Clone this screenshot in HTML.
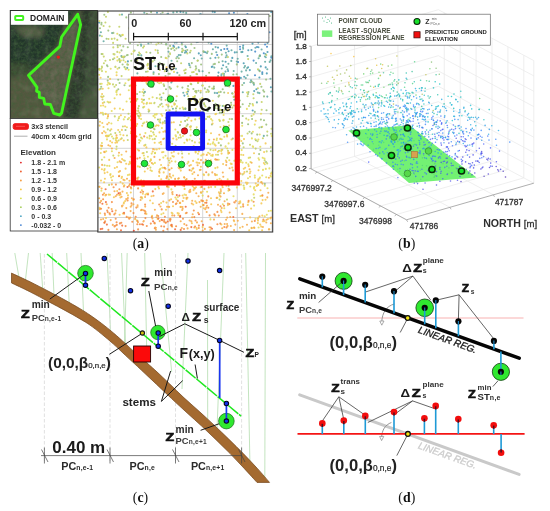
<!DOCTYPE html>
<html><head><meta charset="utf-8"><title>Figure</title>
<style>
html,body{margin:0;padding:0;background:#fff;}
body{width:550px;height:511px;overflow:hidden;}
svg{display:block;font-family:"Liberation Sans",sans-serif;}
</style></head><body>
<svg width="550" height="511" viewBox="0 0 550 511">
<defs>
<clipPath id="satclip"><rect x="10.2" y="10.4" width="87.3" height="108"/></clipPath>
<filter id="blur2" x="-10%" y="-10%" width="120%" height="120%"><feGaussianBlur stdDeviation="2.2"/></filter>
<filter id="noise" x="0" y="0" width="100%" height="100%"><feTurbulence type="fractalNoise" baseFrequency="0.35" numOctaves="3" seed="4"/><feColorMatrix type="matrix" values="0 0 0 0 0.05  0 0 0 0 0.12  0 0 0 0 0.04  0 0 0 2.2 -0.75"/></filter>
<filter id="noise2" x="0" y="0" width="100%" height="100%"><feTurbulence type="fractalNoise" baseFrequency="0.12" numOctaves="2" seed="9"/><feColorMatrix type="matrix" values="0 0 0 0 0.55  0 0 0 0 0.58  0 0 0 0 0.45  0 0 0 2.5 -1.1"/></filter>
</defs>
<rect width="550" height="511" fill="#fff"/>
<g id="pa">
<rect x="97.8" y="11" width="174.9" height="220.6" fill="#fff"/>
<path d="M133.5 11V231.5M168.1 11V231.5M202.7 11V231.5M237.3 11V231.5M271.9 11V231.5M98 44.5H272.6M98 79.1H272.6M98 113.7H272.6M98 148.3H272.6M98 182.9H272.6M98 217.5H272.6" stroke="#cbcbcb" stroke-width="0.8" fill="none"/>
<path d="M224.3 49.0h0M183.0 17.2h0M255.0 75.3h0M250.0 16.6h0M173.7 22.6h0M227.3 48.9h0M240.3 18.4h0M175.0 25.4h0M240.1 49.2h0M222.2 20.7h0M242.8 36.9h0M266.8 31.4h0M237.4 19.6h0M261.8 40.7h0M221.9 25.4h0M228.7 19.5h0M238.7 36.2h0M254.9 41.1h0M223.4 25.5h0M241.2 39.9h0M202.6 25.5h0M255.2 51.6h0M265.1 44.5h0M252.3 24.3h0M233.1 35.1h0M186.2 52.0h0M267.3 25.9h0M173.4 45.9h0M238.1 62.0h0M239.5 32.5h0M263.8 53.2h0M271.3 57.6h0M240.0 46.8h0M268.2 37.7h0M233.9 12.7h0M212.4 31.0h0M253.6 60.6h0M247.4 14.0h0M181.7 42.7h0M211.3 43.8h0M229.1 13.3h0M185.8 15.1h0M267.0 46.7h0M217.2 55.0h0M257.0 47.0h0M253.9 22.2h0M269.4 32.3h0M163.2 15.9h0M249.1 30.9h0M221.0 30.8h0M152.9 34.7h0M210.0 18.6h0M190.3 15.8h0M262.3 72.2h0M235.7 26.9h0M222.6 33.2h0" stroke="#3f86c8" stroke-width="2.1" stroke-linecap="round" opacity="0.85" fill="none"/>
<path d="M231.9 40.1h0M256.4 89.3h0M259.3 70.5h0M184.4 95.6h0M260.8 66.4h0M176.7 42.4h0M267.5 42.9h0M257.2 20.6h0M178.6 47.4h0M242.4 51.9h0M253.9 40.7h0M262.4 35.3h0M262.3 73.9h0M212.4 66.6h0M232.3 57.9h0M265.7 67.4h0M230.1 34.9h0M259.0 33.2h0M197.8 42.0h0M249.8 70.1h0M233.4 85.9h0M200.2 14.4h0M189.8 33.5h0M211.8 66.9h0M244.2 76.7h0M218.0 47.6h0M248.1 67.3h0M233.2 24.4h0M204.6 28.4h0M258.4 47.3h0M163.2 21.4h0M240.4 34.1h0M166.6 19.0h0M193.3 32.3h0M192.5 31.2h0M218.5 72.6h0M191.3 27.3h0M243.7 63.2h0M214.6 16.8h0M200.8 55.2h0M196.7 42.1h0M267.1 37.4h0M259.8 56.0h0M221.1 50.1h0M99.1 22.6h0M228.1 71.0h0M146.0 25.1h0M267.5 52.0h0M225.6 61.7h0M198.8 53.4h0M180.8 15.3h0M248.3 50.2h0M240.8 77.9h0M180.5 11.9h0M145.7 20.8h0M250.2 36.1h0M242.7 15.8h0M154.1 41.1h0M168.5 39.6h0M258.1 34.3h0M251.5 50.0h0M161.9 15.9h0M214.8 12.1h0M212.8 40.5h0M182.6 27.3h0M266.8 73.4h0M252.7 110.5h0M230.9 30.9h0M259.4 77.5h0M175.2 31.9h0M151.4 26.4h0M193.8 23.1h0M228.6 51.2h0M212.7 11.8h0M238.9 36.9h0M247.4 15.6h0M252.2 27.4h0M187.9 91.5h0M219.4 30.1h0M205.4 52.3h0M250.6 30.8h0M181.9 26.9h0M252.5 43.6h0M189.5 65.3h0M270.9 87.2h0M258.3 42.6h0M127.9 61.4h0M157.0 12.7h0M203.6 21.5h0M166.8 30.5h0M200.8 14.2h0M216.6 39.8h0M223.1 65.2h0M217.1 93.1h0M271.2 12.0h0M211.2 24.8h0M209.0 17.9h0M178.5 19.5h0M254.2 91.1h0M234.8 52.4h0M215.4 57.7h0M241.4 26.1h0M243.2 45.5h0M168.1 14.1h0M151.7 28.1h0M233.5 31.8h0M185.9 47.2h0" stroke="#4496b0" stroke-width="2.1" stroke-linecap="round" opacity="0.85" fill="none"/>
<path d="M247.5 75.2h0M144.3 12.7h0M138.1 54.9h0M243.0 47.2h0M233.7 71.0h0M185.4 50.8h0M186.2 12.9h0M226.4 67.0h0M219.8 36.4h0M265.8 57.2h0M231.6 20.7h0M153.6 72.2h0M226.6 55.4h0M216.3 52.3h0M271.4 91.5h0M141.0 44.5h0M234.3 99.8h0M160.4 24.2h0M246.1 70.4h0M171.9 81.5h0M210.4 58.3h0M225.9 52.8h0M270.6 60.4h0M242.8 92.2h0M226.7 45.6h0M185.3 109.0h0M264.9 56.5h0M213.7 88.8h0M207.6 111.0h0M142.0 24.8h0M185.3 46.3h0M255.4 47.8h0M200.7 29.4h0M201.7 58.5h0M258.6 58.3h0M155.8 32.3h0M177.3 72.7h0M103.6 41.2h0M147.7 84.4h0M150.3 17.1h0M183.2 41.5h0M225.5 71.6h0M144.6 26.9h0M267.3 96.6h0M189.0 63.8h0M247.6 56.0h0M247.2 68.1h0M261.5 127.1h0M191.6 37.6h0M144.6 18.6h0M183.5 15.4h0M241.3 52.1h0M241.6 71.6h0M244.0 83.0h0M146.4 24.7h0M270.5 78.8h0M122.0 14.6h0M269.7 61.9h0M231.3 60.9h0M174.8 42.6h0M265.5 54.0h0M144.9 19.6h0M140.5 68.4h0M178.8 55.1h0M232.2 93.2h0M243.1 48.8h0M144.9 91.9h0M236.8 61.5h0M228.4 63.7h0M175.5 30.7h0M141.3 55.4h0M168.5 51.7h0M138.3 24.4h0M205.4 81.1h0M141.1 45.7h0M187.3 94.0h0M225.8 57.2h0M183.3 92.7h0M207.0 53.1h0M180.6 55.1h0M157.5 17.5h0M206.9 38.3h0M259.9 55.4h0M224.0 36.8h0M184.9 52.7h0M138.4 37.0h0M245.8 78.1h0M167.2 14.4h0M265.1 61.8h0M259.5 93.1h0M253.4 39.8h0M271.4 56.2h0M100.9 32.3h0M137.7 21.4h0M161.4 97.5h0M155.4 66.2h0M212.1 36.7h0M234.2 40.0h0M250.4 82.3h0M251.4 81.3h0M211.1 21.7h0M214.8 92.9h0M112.1 33.1h0M167.2 70.7h0M164.3 26.9h0M236.8 52.2h0M257.8 92.6h0M184.8 22.7h0M138.2 22.2h0M267.3 69.2h0M211.9 29.2h0M183.3 12.3h0M185.5 19.6h0M239.1 86.6h0M212.8 26.4h0M244.2 67.5h0M221.4 75.6h0M173.1 30.6h0M256.1 63.0h0M171.5 60.8h0M204.0 51.9h0M170.8 88.5h0M231.5 50.3h0M214.3 67.6h0M179.8 39.1h0M193.9 40.5h0M244.9 37.6h0M198.4 40.4h0M237.9 85.8h0M207.4 23.7h0M172.9 108.7h0M142.3 20.0h0M261.6 49.5h0M227.7 69.3h0M232.7 37.5h0M253.3 82.9h0M173.3 12.4h0M155.9 16.4h0M221.5 74.2h0M256.9 102.4h0M199.3 71.2h0M137.4 73.4h0M263.8 135.9h0M166.3 44.2h0M129.6 27.2h0M221.8 68.5h0M138.8 23.3h0M177.3 56.7h0M194.1 58.2h0M192.7 21.3h0M174.1 46.9h0M194.8 78.4h0M176.0 68.7h0M127.2 67.9h0M237.7 58.8h0M220.9 23.6h0M208.6 42.6h0M215.6 47.1h0M182.1 52.0h0M121.4 56.0h0M224.0 73.9h0M139.7 30.6h0M222.6 61.3h0M202.6 71.3h0M236.1 98.3h0M176.9 12.0h0M245.0 66.1h0M99.9 35.6h0M208.8 22.3h0M212.9 49.2h0M235.5 37.7h0M171.3 82.5h0M253.9 84.8h0M152.5 36.3h0M160.8 14.4h0M251.0 80.2h0M148.4 43.5h0M150.5 23.9h0M156.9 38.0h0M222.7 106.0h0M218.1 76.1h0" stroke="#5fa8a0" stroke-width="2.1" stroke-linecap="round" opacity="0.85" fill="none"/>
<path d="M124.5 67.0h0M264.2 91.7h0M195.8 66.2h0M188.1 86.1h0M147.6 64.8h0M266.1 79.6h0M218.9 62.2h0M266.5 110.2h0M151.1 42.6h0M146.5 22.4h0M127.8 47.2h0M164.1 85.9h0M117.7 45.6h0M178.0 132.6h0M210.6 78.3h0M215.6 103.8h0M131.2 60.7h0M264.0 96.4h0M113.4 32.9h0M169.8 73.8h0M165.2 38.7h0M213.8 80.3h0M177.2 61.3h0M207.6 89.7h0M232.8 138.6h0M251.7 133.4h0M196.2 68.3h0M242.8 143.4h0M99.1 69.4h0M182.2 48.7h0M207.6 110.9h0M170.1 45.9h0M190.0 52.5h0M264.0 120.2h0M130.4 34.3h0M106.6 38.7h0M185.5 73.0h0M191.3 44.3h0M224.0 75.9h0M270.9 151.2h0M222.7 89.3h0M213.9 86.6h0M200.6 92.4h0M196.1 91.0h0M207.7 51.6h0M126.9 55.2h0M233.3 74.5h0M107.0 65.3h0M214.9 63.9h0M161.2 57.0h0M101.2 86.8h0M166.0 89.3h0M146.0 71.7h0M208.7 91.3h0M162.4 65.1h0M118.3 89.2h0M195.2 91.2h0M168.0 81.5h0M164.1 64.5h0M107.7 80.6h0M182.0 44.4h0M168.7 56.4h0M158.4 42.5h0M139.0 55.2h0M203.5 112.0h0M206.1 75.8h0M248.1 124.3h0M233.7 80.7h0M168.6 73.7h0M135.0 67.0h0M239.4 112.1h0M193.4 89.0h0M100.0 28.2h0M142.6 77.6h0M218.5 57.6h0M219.2 78.4h0M161.4 42.9h0M146.9 13.9h0M130.1 43.3h0M236.7 74.3h0M211.9 124.5h0M191.8 63.1h0M113.0 59.3h0M122.6 64.5h0M264.8 183.9h0M174.5 50.2h0M269.8 16.0h0M124.5 85.2h0M158.0 119.5h0M209.1 72.8h0M141.7 67.7h0M249.5 131.8h0M157.8 66.4h0M134.8 91.2h0M168.4 106.5h0M143.9 92.9h0M257.2 134.6h0M255.9 140.2h0M123.3 46.4h0M101.4 24.5h0M203.4 51.4h0M178.8 58.3h0M161.3 99.8h0M176.1 100.7h0M197.8 60.5h0M166.0 44.4h0M107.5 66.2h0M142.6 30.7h0M242.7 116.0h0M202.2 85.5h0M224.2 92.5h0M135.5 85.5h0M248.0 94.0h0M125.5 130.0h0M239.5 135.9h0M151.9 33.3h0M165.5 76.0h0M143.2 68.4h0M137.1 94.0h0M152.6 86.9h0M162.4 38.0h0M119.9 61.9h0M198.0 82.9h0M209.3 86.8h0M132.1 40.6h0M219.8 112.7h0M134.6 50.6h0M204.9 88.4h0M119.2 67.7h0M237.5 78.6h0M204.3 104.5h0M185.5 19.8h0M189.6 104.0h0M119.6 83.0h0M120.7 36.3h0M254.8 111.9h0M191.0 79.3h0M121.8 56.9h0M242.3 85.0h0M127.3 64.4h0M119.6 35.0h0M119.3 59.1h0M180.0 125.1h0M133.1 148.4h0M260.9 119.6h0M221.7 112.6h0M253.8 83.3h0M263.3 90.4h0M208.0 108.1h0M184.9 36.5h0M158.9 74.1h0M104.3 14.7h0M188.4 21.0h0M187.3 50.0h0M154.4 60.0h0M260.4 150.0h0M228.6 185.8h0M138.9 116.2h0M157.7 50.6h0M259.1 154.1h0M232.0 119.1h0M234.1 96.6h0M261.4 86.8h0M168.9 32.0h0M101.6 54.0h0M215.3 108.2h0M100.7 88.8h0M134.6 67.5h0M118.2 79.7h0M161.6 103.7h0M164.9 121.1h0M130.9 12.6h0M131.3 116.4h0M154.5 129.3h0M136.8 18.0h0M190.3 67.3h0M168.2 48.3h0M132.3 32.6h0M220.7 91.9h0M239.8 100.5h0M251.8 81.7h0M150.3 52.7h0M179.4 75.2h0M240.3 106.9h0M215.1 107.0h0M191.3 84.2h0M201.1 64.5h0M242.1 122.9h0M126.3 17.4h0M144.0 99.8h0M169.5 87.1h0M248.5 92.1h0M196.3 92.4h0M242.7 104.2h0M249.9 103.8h0M143.1 77.6h0M176.4 48.5h0M151.1 12.1h0M240.8 160.4h0M162.6 12.5h0M267.2 135.5h0M159.7 62.7h0M148.1 20.7h0M154.0 30.3h0M221.8 54.6h0M225.5 86.0h0M197.0 74.3h0M266.0 162.1h0M266.3 124.6h0M137.8 45.2h0M219.2 95.6h0M179.2 80.3h0M185.3 108.4h0M108.3 30.6h0M134.7 41.5h0M187.6 124.6h0M231.1 102.7h0M160.3 122.5h0M213.8 88.3h0M121.5 50.4h0M220.9 145.4h0M259.8 71.3h0M188.1 99.3h0M238.7 108.4h0M101.5 22.9h0M218.5 96.6h0M259.5 56.3h0M123.6 57.5h0M213.6 64.3h0M171.3 48.9h0M176.3 58.3h0M194.5 48.0h0M127.7 55.0h0M165.1 69.8h0M148.7 111.6h0M153.3 57.1h0M236.8 64.4h0M153.5 73.9h0M198.8 70.0h0M182.4 87.6h0M108.1 76.9h0M176.0 108.4h0M252.1 119.0h0M190.4 76.0h0M198.4 90.7h0M124.8 56.5h0M134.1 80.8h0M211.8 53.9h0M185.1 121.1h0M168.3 98.8h0" stroke="#97bd78" stroke-width="2.1" stroke-linecap="round" opacity="0.85" fill="none"/>
<path d="M262.9 138.2h0M216.6 105.4h0M141.1 137.6h0M109.6 26.5h0M107.9 11.9h0M270.8 113.9h0M188.5 89.7h0M135.4 67.0h0M190.9 126.4h0M175.6 145.9h0M117.8 47.2h0M133.7 80.1h0M101.9 66.6h0M159.0 23.7h0M143.1 47.6h0M267.3 131.6h0M106.0 16.7h0M122.9 126.5h0M228.4 122.0h0M187.3 53.4h0M114.5 86.7h0M248.2 59.1h0M181.1 63.2h0M260.2 83.9h0M163.6 84.4h0M149.7 135.9h0M163.0 122.3h0M266.3 55.0h0M206.0 119.0h0M117.3 39.9h0M205.5 106.5h0M101.4 68.8h0M219.6 199.6h0M158.5 42.9h0M104.2 102.2h0M219.9 120.9h0M139.3 112.7h0M140.0 53.8h0M222.3 149.7h0M233.6 96.9h0M135.2 161.7h0M159.8 69.9h0M139.4 42.3h0M108.3 136.1h0M101.2 96.6h0M247.0 171.6h0M210.5 149.7h0M220.6 193.0h0M131.6 53.9h0M123.5 60.3h0M127.9 119.3h0M121.6 76.1h0M195.2 119.4h0M250.0 144.8h0M195.0 96.0h0M252.6 104.0h0M185.0 133.0h0M165.6 100.1h0M147.9 63.7h0M138.2 110.9h0M152.7 61.4h0M222.9 73.6h0M219.7 105.6h0M266.7 151.4h0M220.3 109.9h0M242.6 174.4h0M182.1 153.6h0M169.0 160.5h0M108.8 102.5h0M192.1 140.7h0M138.9 106.1h0M257.9 88.3h0M218.0 154.8h0M155.0 153.3h0M259.4 127.6h0M120.1 45.5h0M219.2 110.2h0M124.8 160.8h0M239.2 89.0h0M119.3 60.1h0M144.2 80.4h0M247.6 133.5h0M107.8 129.4h0M110.8 134.3h0M202.0 112.8h0M121.7 138.4h0M113.4 138.5h0M261.7 102.0h0M243.6 185.5h0M253.6 98.2h0M128.4 80.1h0M200.1 99.4h0M177.5 86.6h0M238.1 111.5h0M208.6 174.2h0M105.4 22.5h0M258.0 69.4h0M218.7 142.9h0M155.0 32.5h0M114.3 58.3h0M141.8 68.1h0M197.5 60.7h0M119.3 26.7h0M182.2 51.2h0M227.0 199.6h0M127.8 140.0h0M139.8 92.0h0M101.9 159.8h0M154.3 103.2h0M113.3 47.4h0M144.0 46.3h0M186.6 126.0h0M165.8 117.7h0M232.3 107.6h0M122.2 35.1h0M231.3 105.0h0M158.0 52.9h0M159.9 94.6h0M146.6 103.8h0M113.5 54.1h0M160.1 104.9h0M192.1 72.2h0M102.6 54.1h0M247.5 96.3h0M108.5 39.0h0M194.8 100.5h0M184.2 70.5h0M103.8 56.6h0M195.9 102.2h0M114.8 116.4h0M113.0 84.4h0M173.1 48.1h0M137.4 99.0h0M132.8 125.4h0M146.8 121.9h0M174.9 104.0h0M232.6 93.8h0M135.7 80.0h0M187.2 119.9h0M196.4 74.0h0M143.6 153.0h0M153.2 132.4h0M164.1 138.5h0M100.2 83.9h0M178.7 137.7h0M114.5 54.4h0M239.0 134.0h0M129.0 28.4h0M110.1 130.6h0M109.1 184.9h0M188.2 96.3h0M102.0 71.1h0M169.7 110.3h0M209.4 117.1h0M185.7 180.1h0M253.3 94.2h0M208.5 91.9h0M170.4 88.7h0M142.1 80.9h0M139.1 52.5h0M116.1 85.0h0M229.7 119.0h0M115.5 66.9h0M104.6 165.2h0M171.5 70.1h0M211.1 182.5h0M236.8 114.7h0M125.8 69.2h0M164.8 71.3h0M229.3 86.5h0M147.7 71.5h0M157.6 82.1h0M194.7 130.0h0M111.8 38.9h0M137.2 60.4h0M180.4 113.4h0M183.4 50.3h0M130.9 101.9h0M271.1 133.7h0M119.7 14.7h0M143.6 95.5h0M99.2 68.7h0M146.9 152.0h0M128.1 64.8h0M261.7 109.7h0M178.5 114.7h0M166.1 110.3h0M143.1 123.5h0M156.3 44.5h0M151.7 30.6h0M116.9 90.5h0M132.6 150.9h0M129.7 85.9h0M109.5 83.6h0M153.8 128.6h0M239.2 159.8h0M163.4 93.3h0M193.7 72.0h0M127.0 135.5h0M136.3 100.7h0M192.3 113.0h0M224.7 110.1h0M134.6 25.8h0M264.7 160.4h0M145.4 144.9h0M146.4 52.2h0M125.6 38.8h0M114.5 38.6h0M186.8 139.6h0M271.6 172.6h0M237.1 85.5h0M156.8 98.1h0M199.4 142.6h0M143.2 107.4h0M203.8 162.3h0M222.0 110.0h0M164.7 41.4h0M227.5 110.7h0M195.6 69.8h0M150.4 167.6h0M103.5 96.2h0M113.3 155.6h0M176.1 111.4h0M206.3 92.0h0M184.4 115.9h0M158.5 106.7h0M118.8 118.3h0M235.9 98.1h0M254.2 197.7h0M218.5 106.8h0M225.9 105.6h0M243.6 147.2h0M149.3 110.7h0M132.9 81.3h0M146.9 83.7h0M169.3 95.4h0M143.2 100.1h0M195.7 91.6h0M115.3 133.1h0M183.5 109.1h0M194.5 97.4h0M102.5 99.5h0M179.9 108.5h0M180.8 137.4h0M169.7 114.7h0M204.1 103.2h0M137.0 113.7h0M117.3 51.9h0M103.2 114.6h0M147.7 77.0h0M187.5 88.7h0M119.7 132.0h0M173.7 67.9h0M250.1 157.5h0M165.1 123.0h0M217.8 108.5h0M227.2 157.8h0M234.0 105.5h0M255.7 148.6h0M168.9 95.6h0M196.6 112.5h0M103.6 26.0h0M148.3 124.7h0M223.3 120.5h0M223.7 105.8h0M115.3 66.9h0M249.0 106.0h0M113.1 42.9h0M190.7 50.7h0M228.0 150.8h0M165.7 57.9h0M170.1 54.1h0M239.0 179.1h0M201.9 128.2h0M110.0 60.0h0M190.7 83.9h0M105.4 60.7h0M185.7 69.6h0M102.0 67.3h0M154.5 102.8h0M271.5 128.8h0M123.6 57.3h0M116.6 146.6h0M218.8 92.3h0M205.2 106.0h0M257.5 141.2h0M246.2 118.6h0M170.0 53.2h0M185.4 115.6h0M227.9 57.1h0M128.5 113.8h0M203.6 133.8h0M207.7 116.8h0M270.9 147.1h0M103.9 63.3h0M185.0 73.3h0M267.2 163.4h0M140.0 77.3h0M212.2 88.6h0M174.9 37.2h0M118.6 140.5h0M219.0 150.7h0M251.6 115.9h0M138.2 108.4h0M154.8 138.9h0M138.1 115.7h0M101.9 36.2h0" stroke="#c2d060" stroke-width="2.1" stroke-linecap="round" opacity="0.85" fill="none"/>
<path d="M105.3 106.8h0M200.2 111.0h0M153.1 164.1h0M102.7 112.9h0M147.0 102.7h0M139.2 118.0h0M250.3 186.5h0M116.4 91.4h0M248.3 164.3h0M187.5 163.5h0M119.9 108.6h0M136.8 220.4h0M184.5 194.6h0M221.2 151.1h0M181.0 121.9h0M139.1 140.0h0M222.8 204.3h0M151.5 136.1h0M218.7 159.8h0M143.9 155.5h0M170.3 102.4h0M189.6 139.5h0M104.3 157.3h0M251.9 138.4h0M123.3 56.5h0M224.3 208.3h0M172.5 156.1h0M144.3 122.6h0M161.1 203.0h0M99.3 89.5h0M100.8 153.0h0M190.9 100.7h0M129.0 79.6h0M224.3 136.7h0M241.7 150.1h0M134.3 81.7h0M130.8 120.1h0M159.2 83.3h0M155.4 126.2h0M117.3 57.0h0M192.5 168.9h0M166.7 58.2h0M147.5 65.4h0M123.8 119.4h0M111.9 151.3h0M104.7 169.1h0M168.7 122.1h0M265.8 168.9h0M254.0 188.6h0M216.2 113.7h0M254.1 205.6h0M183.0 136.0h0M133.6 51.4h0M264.5 158.5h0M148.4 68.3h0M204.2 120.3h0M248.5 119.8h0M190.7 129.5h0M101.9 143.1h0M264.7 216.4h0M161.9 128.0h0M151.7 153.6h0M193.7 146.0h0M107.0 135.5h0M149.0 123.8h0M198.3 101.8h0M117.3 33.7h0M255.3 139.3h0M176.7 96.3h0M128.8 90.3h0M165.5 155.8h0M152.6 97.2h0M251.7 200.4h0M155.0 114.4h0M255.6 218.7h0M147.9 156.7h0M175.6 135.2h0M190.6 135.5h0M252.9 131.8h0M183.5 133.1h0M127.9 175.1h0M263.0 169.9h0M259.1 159.7h0M130.9 133.2h0M240.5 160.6h0M161.3 114.2h0M176.0 136.4h0M258.4 139.6h0M136.6 99.3h0M184.4 142.7h0M212.7 143.5h0M109.2 135.4h0M144.2 106.8h0M134.0 178.1h0M223.8 126.1h0M237.9 126.0h0M146.4 82.8h0M162.4 167.8h0M163.3 157.6h0M111.1 177.4h0M254.9 177.6h0M201.5 113.1h0M240.3 202.8h0M154.0 134.6h0M107.5 84.8h0M186.6 92.2h0M126.9 127.3h0M213.3 150.2h0M117.6 68.8h0M143.8 180.7h0M242.0 135.9h0M229.3 160.3h0M137.7 149.6h0M156.1 136.3h0M244.2 188.9h0M215.3 168.1h0M149.2 98.7h0M116.4 92.3h0M271.0 176.6h0M142.1 102.1h0M201.2 155.5h0M129.6 33.7h0M142.4 92.0h0M119.2 116.8h0M262.2 126.7h0M135.6 30.0h0M111.7 111.0h0M238.6 154.9h0M130.2 163.4h0M227.2 148.5h0M215.2 186.9h0M120.9 60.5h0M259.7 134.5h0M264.8 185.8h0M268.7 211.0h0M216.0 154.7h0M110.5 174.1h0M188.6 117.8h0M264.8 164.2h0M161.4 214.2h0M172.2 143.7h0M133.1 141.4h0M254.3 187.1h0M209.5 116.2h0M202.9 85.6h0M259.9 177.6h0M116.6 72.4h0M119.6 52.5h0M232.4 149.9h0M246.9 108.9h0M216.9 174.9h0M224.6 132.5h0M200.7 187.2h0M99.4 21.1h0M210.4 219.4h0M135.7 110.8h0M253.1 105.4h0M167.6 142.2h0M198.3 82.3h0M155.1 152.9h0M233.5 196.2h0M162.7 106.5h0M118.6 155.6h0M241.2 154.8h0M242.2 125.8h0M242.6 162.6h0M212.8 100.7h0M151.9 171.0h0M198.0 153.8h0M166.8 80.2h0M212.5 155.9h0M167.2 121.6h0M221.7 139.3h0M198.1 182.5h0M181.6 150.7h0M109.9 84.0h0M237.6 122.9h0M217.3 197.7h0M258.4 217.5h0M175.3 129.5h0M134.5 129.0h0M142.1 138.5h0M257.8 185.1h0M132.1 149.0h0M105.9 71.8h0M228.6 143.4h0M151.0 131.2h0M219.2 119.8h0M101.7 83.7h0M134.5 133.3h0M211.1 155.5h0M171.8 106.5h0M162.4 64.2h0M269.4 168.4h0M260.3 146.8h0M200.7 104.0h0M120.3 134.5h0M254.8 124.6h0M168.7 115.8h0M172.5 213.6h0M99.2 167.5h0M110.7 68.7h0M253.6 114.4h0M246.2 162.7h0M230.7 163.6h0M248.0 178.3h0M254.8 175.5h0M234.3 160.8h0M112.0 136.6h0M195.6 109.1h0M150.9 159.4h0M159.3 142.7h0M155.8 78.7h0M266.8 214.7h0M117.4 60.6h0M153.5 115.9h0M116.4 149.2h0M206.2 130.5h0M225.5 146.7h0M128.6 69.7h0M234.8 92.0h0M161.1 82.8h0M240.8 207.0h0M198.2 159.3h0M140.4 140.8h0M144.5 158.4h0M185.4 127.9h0M124.9 117.0h0M258.6 227.5h0M160.3 168.8h0M115.8 138.8h0M142.3 186.2h0M247.0 92.5h0M216.7 140.0h0M107.1 165.8h0M203.6 174.2h0M250.5 162.0h0M174.2 103.4h0M216.9 138.5h0M260.5 196.0h0M150.0 161.4h0M244.2 187.5h0M167.2 186.0h0M259.6 178.5h0M131.1 85.3h0M139.2 142.7h0M188.9 153.7h0M227.7 179.3h0M196.7 127.2h0M111.4 123.5h0M145.4 133.1h0M168.1 121.0h0M99.6 69.7h0M226.9 135.1h0M234.6 160.7h0M160.1 119.4h0M105.5 114.0h0M177.9 197.0h0M101.1 148.7h0M176.4 199.2h0M106.2 151.2h0M199.6 118.4h0M169.1 120.4h0M229.2 125.5h0M267.5 188.3h0M188.6 181.3h0M107.4 118.3h0M228.4 190.7h0M177.0 106.4h0M174.0 71.9h0M266.2 177.2h0M189.5 183.2h0M129.0 118.0h0M149.6 138.4h0M156.8 181.8h0M261.6 182.1h0M142.2 198.4h0M163.4 152.0h0M126.6 101.5h0M209.2 139.7h0M212.4 120.6h0M114.6 98.2h0M223.6 119.9h0M177.7 113.5h0M207.1 191.7h0M262.7 157.7h0M228.6 131.3h0M208.1 152.7h0M271.7 136.1h0M194.9 142.4h0M136.3 125.9h0M100.9 105.7h0M108.5 88.2h0M154.9 162.9h0M179.6 184.3h0M168.2 128.7h0M116.3 137.5h0M143.4 89.6h0M156.8 114.0h0M159.7 120.4h0M169.0 179.6h0M107.0 139.4h0M109.4 165.9h0M270.5 175.8h0M140.8 181.5h0M258.5 158.2h0M225.6 146.4h0M141.1 119.0h0M162.8 167.8h0M237.4 178.5h0M125.5 62.0h0M201.2 193.0h0M159.7 98.6h0M254.0 187.6h0M202.7 195.6h0M107.6 101.7h0M99.2 74.8h0M152.7 139.2h0M248.7 157.9h0M271.0 210.7h0M115.9 140.2h0M262.2 175.5h0M213.2 142.3h0M202.2 98.0h0M223.7 112.3h0M182.7 107.5h0M220.4 127.0h0M117.6 162.3h0M137.9 166.4h0M135.0 133.2h0M177.7 132.1h0M202.7 205.1h0M211.1 119.0h0M159.3 121.5h0M240.6 162.0h0M118.0 120.2h0M210.3 144.3h0M147.4 126.8h0M175.4 161.6h0M253.7 194.4h0M171.4 189.4h0M206.1 132.3h0M151.2 103.3h0M252.8 146.4h0M168.4 105.4h0M261.0 113.8h0M259.3 166.6h0M251.5 227.9h0M140.4 114.1h0M125.5 68.6h0M147.2 137.6h0M208.0 143.5h0M99.5 89.5h0M214.6 144.4h0M168.8 129.0h0M108.2 82.8h0M228.2 153.8h0M198.2 147.2h0M125.4 83.2h0M165.2 130.7h0M122.8 34.9h0M193.2 97.1h0M195.6 151.6h0M154.9 117.5h0M253.1 146.9h0M132.6 154.1h0M155.5 50.1h0M142.2 185.6h0M101.4 190.8h0M156.4 114.5h0M129.8 98.6h0M116.8 94.6h0M110.0 194.8h0M223.6 115.0h0M133.0 177.5h0M101.8 146.3h0" stroke="#e4da58" stroke-width="2.1" stroke-linecap="round" opacity="0.85" fill="none"/>
<path d="M111.3 129.2h0M163.3 131.8h0M250.4 171.5h0M171.2 177.6h0M244.3 218.7h0M166.5 202.6h0M263.9 163.0h0M143.7 103.6h0M171.7 212.8h0M180.8 170.6h0M262.2 195.8h0M125.6 168.6h0M117.2 191.1h0M144.8 171.5h0M217.2 179.8h0M119.6 214.7h0M200.8 90.8h0M107.4 172.2h0M120.9 115.2h0M255.7 120.7h0M141.8 99.3h0M100.6 77.8h0M171.6 161.3h0M236.9 173.7h0M163.4 213.2h0M241.3 181.0h0M133.0 176.7h0M117.1 142.4h0M202.6 154.5h0M166.0 209.8h0M105.4 195.4h0M114.7 108.6h0M161.2 179.3h0M129.4 174.6h0M245.2 167.7h0M110.2 141.1h0M147.7 168.6h0M236.5 172.4h0M180.1 134.9h0M255.7 183.5h0M133.0 163.5h0M162.2 115.7h0M208.8 183.5h0M207.4 164.3h0M178.1 178.8h0M261.2 226.6h0M101.9 169.3h0M173.0 206.3h0M239.4 201.7h0M158.5 125.6h0M123.6 160.2h0M123.0 109.7h0M123.9 202.5h0M232.2 167.6h0M239.4 139.5h0M99.6 125.6h0M240.2 201.3h0M173.8 122.3h0M104.8 152.3h0M142.2 125.7h0M137.2 124.0h0M221.5 212.1h0M188.4 161.9h0M207.9 143.9h0M151.5 196.2h0M101.0 180.6h0M182.7 185.4h0M145.5 194.7h0M141.8 197.2h0M152.7 151.6h0M123.4 135.2h0M100.2 213.2h0M130.8 192.5h0M105.9 135.9h0M246.9 184.1h0M109.2 159.9h0M193.9 187.7h0M244.0 139.1h0M123.8 203.5h0M159.5 132.4h0M265.6 143.4h0M196.5 228.1h0M138.3 177.5h0M158.4 187.1h0M248.3 202.2h0M129.8 161.9h0M154.6 149.5h0M180.8 206.8h0M156.7 125.3h0M173.9 151.8h0M196.0 187.2h0M215.5 159.6h0M159.1 176.1h0M197.6 162.7h0M202.6 227.1h0M178.8 213.5h0M225.9 160.5h0M217.5 167.4h0M108.7 194.6h0M123.8 140.5h0M228.2 152.3h0M110.2 102.3h0M211.2 204.2h0M161.1 165.0h0M104.1 182.2h0M256.7 185.9h0M116.8 141.3h0M108.1 114.9h0M131.2 188.5h0M243.8 168.8h0M191.9 223.3h0M169.6 162.8h0M162.1 152.3h0M178.5 167.6h0M265.5 199.7h0M203.6 154.4h0M126.9 193.1h0M221.6 153.6h0M191.4 170.7h0M128.8 164.2h0M206.9 164.4h0M236.9 187.4h0M104.2 170.4h0M121.9 129.9h0M152.8 203.2h0M240.9 184.6h0M131.2 131.6h0M169.8 147.2h0M125.2 201.1h0M250.0 176.8h0M221.5 149.8h0M166.5 67.3h0M170.5 158.4h0M144.2 145.6h0M146.4 213.9h0M262.1 230.3h0M119.3 175.9h0M192.5 173.9h0M141.9 190.3h0M161.2 144.3h0M119.3 195.1h0M108.9 122.8h0M173.8 156.6h0M184.6 188.9h0M260.5 190.2h0M222.7 187.2h0M199.8 170.1h0M187.2 140.6h0M130.9 128.3h0M102.3 97.2h0M215.6 145.6h0M148.9 165.5h0M163.7 172.4h0M162.6 123.5h0M142.8 193.7h0M120.5 182.0h0M186.0 195.1h0M210.2 163.2h0M169.2 207.0h0M195.3 201.2h0M118.8 171.9h0M166.9 177.2h0M140.0 134.6h0M102.1 94.0h0M270.3 218.4h0M239.8 145.8h0M178.9 168.1h0M166.5 104.8h0M168.5 136.5h0M125.6 168.8h0M120.4 197.5h0M246.0 182.6h0M200.3 138.9h0M196.8 229.1h0M211.1 187.1h0M220.2 138.9h0M190.9 165.0h0M148.6 109.5h0M122.9 213.5h0M104.7 173.1h0M159.0 188.5h0M150.5 170.2h0M240.0 227.7h0M104.0 131.2h0M134.9 183.5h0M263.3 221.3h0M262.8 221.3h0M271.1 173.8h0M244.5 172.0h0M178.4 153.6h0M250.1 217.4h0M212.6 123.6h0M168.7 187.0h0M258.3 179.4h0M227.9 205.1h0M100.0 208.3h0M183.6 197.9h0M105.7 113.9h0M139.8 166.9h0M133.3 199.9h0M114.8 168.0h0M168.5 165.2h0M110.1 78.9h0M103.5 127.0h0M215.4 149.9h0M255.2 190.2h0M113.0 176.2h0M198.8 151.4h0M243.8 173.5h0M112.0 180.3h0M157.7 219.0h0M136.3 136.3h0M138.9 182.9h0M110.3 175.0h0M258.5 170.3h0M223.2 129.5h0M100.8 145.6h0M236.1 208.2h0M102.3 123.0h0M202.6 191.5h0M137.5 179.4h0M248.7 166.1h0M117.0 137.9h0M182.3 157.4h0M102.7 88.8h0M193.2 204.5h0M191.4 120.7h0M247.6 182.9h0M159.6 169.8h0M130.6 156.8h0M174.4 104.8h0M146.7 193.7h0M211.0 133.3h0M171.6 122.5h0M122.0 176.9h0M169.9 142.4h0M220.7 189.3h0M128.0 195.4h0M104.9 178.7h0M113.9 197.3h0M169.1 169.8h0M247.8 204.9h0M193.1 160.9h0M199.4 163.1h0M140.5 115.8h0M184.1 177.2h0M121.6 154.8h0M105.6 132.6h0M258.2 184.7h0M189.9 126.8h0M118.2 130.0h0M264.6 221.1h0M204.0 175.1h0M190.3 127.3h0M223.1 164.1h0M182.6 195.5h0M196.6 162.5h0M171.6 152.7h0M219.6 178.8h0M226.4 185.8h0M258.0 220.6h0M152.1 215.9h0M150.9 160.3h0M210.2 230.0h0M99.6 207.9h0M195.7 152.4h0M210.8 160.2h0M262.3 215.6h0M228.3 109.6h0M122.1 159.1h0M115.4 142.8h0M107.0 136.6h0M167.3 186.5h0M173.1 175.6h0M211.0 161.9h0M171.1 199.3h0M218.9 192.3h0M209.7 153.8h0M203.9 208.3h0M116.6 75.2h0M243.3 155.0h0M177.6 213.1h0M148.0 193.5h0M254.0 153.2h0M156.8 149.5h0M117.0 167.1h0M260.2 224.6h0M193.6 190.1h0M177.0 148.4h0M228.1 93.0h0M178.4 215.3h0M167.2 117.2h0M180.2 202.9h0M99.2 186.7h0M154.7 142.7h0M167.7 158.4h0M196.5 202.9h0M269.4 229.2h0M146.4 147.4h0M176.6 139.4h0M220.9 210.4h0M102.8 103.1h0M175.4 197.5h0M219.7 195.7h0M268.0 219.0h0M120.5 139.2h0M264.1 152.1h0M122.7 183.6h0M249.2 230.3h0M159.3 148.7h0M141.2 180.4h0M217.9 151.7h0M191.1 112.1h0M262.6 200.1h0M121.6 178.0h0M124.4 185.3h0M164.9 168.1h0M234.2 221.3h0M103.2 105.5h0M173.2 138.5h0M149.7 103.3h0M100.9 112.7h0M192.7 186.3h0M186.6 199.1h0M200.9 166.7h0M251.1 208.6h0M159.6 172.8h0M167.5 127.6h0M125.0 126.3h0M257.8 223.1h0M155.3 189.1h0M110.2 146.1h0M212.7 154.8h0M100.0 121.7h0M126.2 163.7h0M112.1 142.5h0M120.2 94.6h0M124.6 180.3h0M254.4 227.9h0M221.4 224.5h0M261.4 203.4h0M231.7 164.0h0M164.8 183.1h0M211.0 198.2h0M142.6 153.2h0M227.1 136.4h0M215.4 114.2h0M208.5 175.2h0M231.6 139.5h0M241.3 141.0h0M150.1 200.5h0M249.8 173.2h0M106.0 218.1h0" stroke="#f5c850" stroke-width="2.1" stroke-linecap="round" opacity="0.85" fill="none"/>
<path d="M251.9 221.5h0M205.8 159.9h0M191.0 182.4h0M240.5 173.8h0M99.5 186.8h0M195.0 183.6h0M102.2 133.1h0M235.3 224.6h0M197.6 165.2h0M208.7 187.4h0M155.3 227.5h0M117.0 194.8h0M135.1 218.9h0M189.6 220.5h0M153.5 195.8h0M229.2 152.9h0M221.7 208.0h0M247.0 224.7h0M137.2 178.3h0M214.0 219.6h0M159.7 221.1h0M229.7 212.5h0M161.5 183.1h0M251.8 228.1h0M163.3 201.5h0M134.0 186.0h0M99.8 209.3h0M231.0 182.6h0M126.3 208.1h0M185.8 213.3h0M116.9 229.3h0M209.5 227.3h0M114.5 191.3h0M230.8 226.0h0M167.1 206.8h0M220.6 196.6h0M227.2 217.6h0M120.5 194.4h0M192.2 200.8h0M207.7 167.1h0M123.9 186.4h0M262.5 183.6h0M105.0 215.0h0M101.6 188.5h0M169.5 169.8h0M189.4 165.7h0M201.3 200.4h0M198.0 175.3h0M192.7 214.2h0M201.7 221.2h0M133.6 167.4h0M159.8 159.7h0M258.2 181.2h0M160.8 142.0h0M168.2 134.7h0M268.3 192.7h0M151.9 163.1h0M189.3 192.1h0M120.2 192.7h0M154.4 156.9h0M172.2 215.5h0M162.8 193.9h0M163.2 139.0h0M196.3 181.5h0M182.7 208.7h0M203.2 201.0h0M239.0 203.5h0M191.8 203.5h0M123.5 179.8h0M130.3 217.6h0M154.9 209.7h0M258.0 218.7h0M190.2 189.9h0M214.9 174.0h0M143.4 210.2h0M182.8 201.0h0M215.3 175.1h0M119.7 161.4h0M137.6 206.7h0M111.9 148.5h0M266.3 222.5h0M152.4 218.5h0M194.9 188.6h0M155.9 227.8h0M101.1 200.9h0M207.0 205.7h0M141.0 210.2h0M215.2 215.5h0M99.2 198.3h0M216.7 197.9h0M153.1 149.1h0M192.1 217.2h0M184.3 224.1h0M104.1 193.3h0M101.0 219.5h0M138.0 222.3h0M165.5 168.8h0M205.3 209.3h0M108.4 145.2h0M107.3 124.3h0M259.5 216.3h0M180.7 221.3h0M222.8 172.5h0M237.8 220.7h0M130.6 211.1h0M226.1 219.7h0M201.0 160.1h0M180.9 183.9h0M194.8 178.7h0M165.5 131.7h0M200.9 192.3h0M154.8 223.4h0M242.6 226.7h0M206.8 154.9h0M224.6 201.2h0M104.4 222.5h0M181.8 228.0h0M145.1 197.0h0M179.2 183.9h0M227.9 203.6h0M194.2 172.3h0M176.6 203.2h0M175.1 178.9h0M109.7 214.2h0M122.5 191.6h0M200.6 169.7h0M211.3 162.3h0M243.1 204.4h0M261.1 182.2h0M178.8 178.2h0M106.7 204.2h0M224.7 224.0h0M233.8 220.2h0M114.6 158.0h0M163.6 193.3h0M128.5 217.5h0M159.2 171.6h0M219.3 134.7h0M232.9 170.4h0M122.0 205.7h0M129.0 185.9h0M206.7 200.4h0M169.9 176.2h0M213.9 139.5h0M170.4 219.1h0M187.6 228.4h0M184.3 177.6h0M190.3 191.8h0M160.5 206.5h0M191.4 221.4h0M103.2 219.0h0M115.3 213.3h0M124.1 213.7h0M204.4 188.9h0M226.2 165.1h0M222.2 185.5h0M180.5 207.0h0M205.1 180.7h0M104.2 151.9h0M171.6 168.3h0M126.2 199.1h0M110.7 220.1h0M122.6 205.5h0M121.1 162.3h0M189.4 191.0h0M139.0 150.6h0M204.9 228.9h0M106.1 194.7h0M266.6 219.8h0M115.7 196.2h0M179.8 202.9h0M193.3 168.3h0M122.0 206.5h0M143.8 221.0h0M251.6 162.7h0M186.5 197.9h0M200.7 206.8h0M249.6 169.3h0M218.0 204.8h0M144.5 164.3h0M172.1 226.6h0M186.6 179.1h0M209.7 163.9h0M168.9 206.7h0M239.5 173.1h0M268.9 229.4h0M236.4 119.5h0M157.0 215.3h0M155.9 229.7h0M230.3 217.0h0M262.9 227.0h0M215.4 159.2h0M223.3 176.7h0M129.5 180.7h0M121.6 196.7h0M110.1 214.5h0M220.9 191.1h0M186.2 130.8h0M206.7 212.0h0M182.5 207.0h0M187.4 197.7h0M111.8 184.4h0M119.0 152.7h0M108.0 116.5h0M229.6 168.3h0M133.4 204.2h0M112.8 224.9h0M145.5 211.9h0M172.5 192.0h0M169.6 219.3h0M179.7 168.4h0M226.5 162.1h0M254.0 227.6h0M167.0 176.3h0M139.8 157.8h0M102.0 145.8h0M127.0 178.8h0M131.9 198.3h0M172.6 194.2h0M198.1 212.8h0M170.9 225.3h0M206.2 207.6h0M145.2 206.6h0M202.7 230.5h0M221.3 180.6h0M131.5 205.4h0M235.9 200.9h0M115.8 210.6h0M116.5 135.4h0M270.9 223.3h0M111.7 209.1h0M212.3 172.4h0M140.8 197.4h0M143.4 221.5h0M242.3 213.9h0M130.7 206.8h0M156.4 217.2h0M224.0 193.2h0M143.9 185.9h0M196.3 193.2h0M234.1 230.1h0M172.2 192.7h0M120.0 171.1h0M169.4 200.4h0M227.1 224.0h0M182.2 210.0h0M198.6 196.3h0M271.2 217.6h0M205.0 202.8h0M201.2 181.6h0M268.9 177.7h0M140.6 200.0h0M222.2 228.3h0M237.2 162.0h0M267.3 197.4h0M126.2 151.5h0M165.9 222.5h0M166.4 178.3h0M169.8 174.1h0M203.2 162.7h0M219.6 193.7h0M197.0 222.4h0M194.3 227.5h0M137.6 205.2h0M227.6 225.9h0M199.5 202.1h0M102.1 164.9h0M127.9 198.0h0M228.6 188.7h0M236.7 183.8h0" stroke="#f7aa48" stroke-width="2.1" stroke-linecap="round" opacity="0.85" fill="none"/>
<path d="M214.4 214.4h0M109.6 213.3h0M167.4 229.1h0M164.2 220.0h0M126.7 216.9h0M167.1 186.5h0M141.8 209.7h0M154.4 222.9h0M186.5 225.3h0M224.0 205.7h0M119.4 189.3h0M119.9 223.4h0M127.6 200.4h0M217.4 211.9h0M168.5 125.1h0M210.8 227.6h0M108.6 207.8h0M164.1 221.7h0M136.3 207.6h0M144.2 136.4h0M154.8 228.3h0M100.1 202.5h0M194.3 217.1h0M173.0 202.0h0M136.3 136.5h0M164.4 167.8h0M144.7 210.8h0M253.6 201.8h0M133.5 213.1h0M175.9 204.1h0M129.8 184.3h0M234.7 202.5h0M129.2 218.8h0M171.7 226.0h0M165.6 222.8h0M116.8 224.9h0M201.8 186.9h0M121.3 222.7h0M180.1 216.9h0M184.0 229.0h0M145.4 218.1h0M107.7 212.1h0M132.8 179.6h0M143.1 191.7h0M132.3 221.7h0M229.5 189.9h0M234.3 202.3h0M208.3 207.7h0M254.8 220.9h0M183.0 218.7h0M220.3 223.6h0M114.3 214.4h0M161.3 226.2h0M177.8 200.9h0M158.2 216.1h0M145.1 204.6h0M140.7 192.3h0M198.9 225.6h0M146.8 226.0h0M161.7 209.4h0M217.0 159.8h0M175.0 186.1h0M141.7 164.0h0M133.1 170.0h0M208.3 196.4h0M150.8 223.6h0M115.7 218.7h0M202.3 200.9h0M113.6 187.3h0M170.2 220.8h0M159.2 204.5h0M176.1 226.3h0M119.0 176.3h0M102.9 194.8h0M101.1 208.8h0M104.8 213.5h0M174.3 215.6h0M218.8 215.6h0M226.6 227.4h0M133.8 199.3h0M145.1 213.5h0M220.5 206.2h0M164.9 216.8h0M184.2 186.1h0M198.8 228.0h0M103.1 199.3h0M111.9 202.1h0M137.4 158.6h0M262.4 195.4h0M162.3 220.3h0M229.4 204.1h0M115.9 184.6h0M195.5 220.5h0M163.3 230.7h0M263.4 219.6h0M125.6 226.1h0M114.5 226.4h0M224.3 227.0h0M193.8 210.5h0M148.0 194.5h0M151.8 217.0h0M135.7 216.7h0M108.4 229.9h0M189.6 170.1h0M195.7 182.1h0M204.1 180.8h0M192.5 181.1h0M137.5 221.1h0M130.9 187.4h0M131.5 203.2h0M206.2 172.3h0M138.1 188.4h0M195.1 226.5h0M143.1 224.7h0M248.6 200.9h0M115.4 225.7h0M116.6 222.3h0M164.1 226.6h0M243.2 206.4h0M170.4 219.3h0M209.6 215.4h0M139.9 224.3h0M186.7 212.7h0M217.4 224.3h0M203.6 205.1h0M107.2 210.6h0M105.1 221.2h0M137.3 224.2h0M138.1 229.4h0" stroke="#f58c40" stroke-width="2.1" stroke-linecap="round" opacity="0.85" fill="none"/>
<path d="M152.8 191.4h0M212.0 228.8h0M112.3 211.3h0M233.3 217.0h0M100.7 229.1h0M206.4 202.8h0M102.3 228.8h0M199.0 214.3h0M124.0 212.8h0M158.4 218.6h0M185.7 206.8h0M176.8 195.1h0M161.6 219.7h0M175.1 229.3h0M179.4 195.6h0M180.2 215.9h0M167.7 221.5h0M105.6 189.2h0M121.0 230.2h0M180.7 229.9h0M102.4 203.7h0M171.7 224.8h0M153.1 221.2h0M191.3 227.1h0M142.1 224.3h0M105.9 202.1h0M203.0 224.9h0M122.2 225.6h0M104.5 222.8h0M106.9 224.6h0M127.5 187.0h0" stroke="#f06a38" stroke-width="2.1" stroke-linecap="round" opacity="0.85" fill="none"/>
<path d="M118.6 193.2h0M133.8 230.7h0" stroke="#e8442c" stroke-width="2.1" stroke-linecap="round" opacity="0.85" fill="none"/>
<rect x="133.5" y="79.1" width="103.8" height="103.8" fill="none" stroke="#fb0309" stroke-width="5.2"/>
<rect x="168.1" y="114" width="34.5" height="34.4" fill="none" stroke="#1212f2" stroke-width="4.9" stroke-linejoin="round"/>
<circle cx="151" cy="84" r="3.3" fill="#1fe838" stroke="#1a6a22" stroke-width="0.8"/>
<circle cx="227.5" cy="83" r="3.3" fill="#1fe838" stroke="#1a6a22" stroke-width="0.8"/>
<circle cx="170.5" cy="99" r="3.3" fill="#1fe838" stroke="#1a6a22" stroke-width="0.8"/>
<circle cx="150.5" cy="125" r="3.3" fill="#1fe838" stroke="#1a6a22" stroke-width="0.8"/>
<circle cx="196.5" cy="132.5" r="3.3" fill="#1fe838" stroke="#1a6a22" stroke-width="0.8"/>
<circle cx="226" cy="129.5" r="3.3" fill="#1fe838" stroke="#1a6a22" stroke-width="0.8"/>
<circle cx="144.5" cy="163.5" r="3.3" fill="#1fe838" stroke="#1a6a22" stroke-width="0.8"/>
<circle cx="181.5" cy="164.5" r="3.3" fill="#1fe838" stroke="#1a6a22" stroke-width="0.8"/>
<circle cx="208.5" cy="163.5" r="3.3" fill="#1fe838" stroke="#1a6a22" stroke-width="0.8"/>
<circle cx="184.5" cy="131" r="3.2" fill="#ee1218" stroke="#7a1a1a" stroke-width="0.7"/>
<text x="132.9" y="69.5" font-size="18.1" font-weight="bold" fill="#111">ST<tspan font-size="13.2" dx="0.6">n,e</tspan></text>
<text x="186.9" y="110.5" font-size="17.9" font-weight="bold" fill="#111">PC<tspan font-size="13.2" dx="0.6">n,e</tspan></text>
<rect x="128.7" y="14.2" width="140.2" height="28" fill="#fff" stroke="#5a5a5a" stroke-width="0.8"/>
<path d="M133.6 36.6H237.3M133.6 32.8v7.6M168.3 32.8v7.6M203 32.8v7.6M237.3 32.8v7.6" stroke="#111" stroke-width="1.15" fill="none"/>
<text x="131.3" y="26.5" font-size="10.8" font-weight="bold" fill="#222">0</text>
<text x="185.6" y="26.5" font-size="10.8" font-weight="bold" fill="#222" text-anchor="middle">60</text>
<text x="266.2" y="26.5" font-size="10.8" font-weight="bold" fill="#222" text-anchor="end">120 cm</text>
<rect x="97.8" y="11" width="174.9" height="221" fill="none" stroke="#3a3a3a" stroke-width="1.1"/>
<g clip-path="url(#satclip)">
<rect x="10" y="10" width="88" height="109" fill="#434d3b"/>
<g filter="url(#blur2)">
<path d="M10 64 L40 52 L62 30 L78 10 L98 10 L98 119 L10 119Z" fill="#56573f"/>
<path d="M5 5H80L63 30L58 46L30 72L5 72Z" fill="#22342a"/>
<path d="M14 27L30 25L46 30L40 37L22 36Z" fill="#5a5f4a"/>
<path d="M5 62L30 64L26 76L5 80Z" fill="#3a4a33"/>
<path d="M82 5H100V60L92 119H63L70 80L78 45Z" fill="#2a362c"/>
<path d="M90 5H100V119H80L87 60Z" fill="#3c4837"/>
<path d="M28.5 75.4L59.5 46.1L61.3 36.7L77.3 14.4L80.1 23.3L61.3 113.5L53.1 113.5L36.7 90Z" fill="#5f5e4b"/>
<path d="M5 78L28 76L52 114L54 125H5Z" fill="#555840"/>
<path d="M76 125L84 96L100 88V125Z" fill="#4c5541"/>
</g>
<rect x="10" y="10" width="88" height="109" filter="url(#noise)" opacity="0.6"/>
<rect x="10" y="10" width="88" height="109" filter="url(#noise2)" opacity="0.12"/>
</g>
<path d="M77.7 14.3L80.6 24.7L61.6 113L59.8 115L53.8 113.4L50.4 104.5L44.8 104L43.7 98.4L39.3 97.3L39.3 92.4L36.6 91.1L37 87.3L28.5 75.4L59.8 46.4L61.6 37Z" fill="none" stroke="#42f41e" stroke-width="2.9" stroke-linejoin="round"/>
<circle cx="58.3" cy="57.1" r="1.7" fill="#f01818"/>
<rect x="10.6" y="11" width="57.5" height="13.8" fill="#fff"/>
<rect x="15.2" y="16" width="8" height="4.1" rx="0.8" fill="#fff" stroke="#42f41e" stroke-width="2"/>
<text x="30" y="21" font-size="8.5" font-weight="bold" fill="#222">DOMAIN</text>
<rect x="10.2" y="10.4" width="87.3" height="108" fill="none" stroke="#222" stroke-width="0.8"/>
<rect x="10.2" y="118.5" width="87.6" height="112.5" fill="#fff" stroke="#333" stroke-width="0.8"/>
<rect x="13.2" y="123.7" width="15.2" height="5.6" rx="1.6" fill="#f01b1b" stroke="#f01b1b" stroke-width="1"/>
<path d="M16 126.3h9" stroke="#ff6a6a" stroke-width="0.7"/>
<text x="31.3" y="129" font-size="7.2" font-weight="bold" fill="#333">3x3 stencil</text>
<path d="M14 136.2h13.5" stroke="#999" stroke-width="0.8"/>
<text x="31.3" y="138.8" font-size="7.2" font-weight="bold" fill="#333">40cm x 40cm grid</text>
<text x="20.4" y="154.5" font-size="8" font-weight="bold" fill="#333">Elevation</text>
<circle cx="20.9" cy="162.6" r="0.9" fill="#e02020"/>
<text x="31.3" y="165.2" font-size="7" font-weight="bold" fill="#333">1.8 - 2.1 m</text>
<circle cx="20.9" cy="171.5" r="0.9" fill="#ee5a2a"/>
<text x="31.3" y="174.1" font-size="7" font-weight="bold" fill="#333">1.5 - 1.8</text>
<circle cx="20.9" cy="180.5" r="0.9" fill="#f59a3a"/>
<text x="31.3" y="183.1" font-size="7" font-weight="bold" fill="#333">1.2 - 1.5</text>
<circle cx="20.9" cy="189.4" r="0.9" fill="#f5c542"/>
<text x="31.3" y="192.0" font-size="7" font-weight="bold" fill="#333">0.9 - 1.2</text>
<circle cx="20.9" cy="198.3" r="0.9" fill="#d8de4a"/>
<text x="31.3" y="200.9" font-size="7" font-weight="bold" fill="#333">0.6 - 0.9</text>
<circle cx="20.9" cy="207.2" r="0.9" fill="#a8d060"/>
<text x="31.3" y="209.8" font-size="7" font-weight="bold" fill="#333">0.3 - 0.6</text>
<circle cx="20.9" cy="216.2" r="0.9" fill="#4fa6c4"/>
<text x="31.3" y="218.8" font-size="7" font-weight="bold" fill="#333">0 - 0.3</text>
<circle cx="20.9" cy="225.1" r="0.9" fill="#3f7fd0"/>
<text x="31.3" y="227.7" font-size="7" font-weight="bold" fill="#333">-0.032 - 0</text>
<text x="140.7" y="248.4" font-family="'Liberation Serif',serif" font-size="13.8" fill="#111" text-anchor="middle">(<tspan font-weight="bold">a</tspan>)</text>
</g>
<g id="pb">
<path d="M311.1 168.9L311.1 46.3M311.1 168.9L406.5 219.8M354.5 156.4L354.5 33.8M354.5 156.4L449.9 207.3M397.9 143.9L397.9 21.3M397.9 143.9L493.3 194.8M444.3 135.4L444.3 12.8M444.3 135.4L317.0 172.0M460.2 143.9L460.2 21.3M460.2 143.9L332.9 180.5M476.1 152.4L476.1 29.8M476.1 152.4L348.8 189.0M492.0 160.9L492.0 38.3M492.0 160.9L364.7 197.5M507.9 169.4L507.9 46.8M507.9 169.4L380.6 206.0M523.8 177.9L523.8 55.3M523.8 177.9L396.5 214.5M311.1 168.9L438.4 132.3L533.8 183.2M311.1 153.6L438.4 117.0L533.8 167.9M311.1 138.2L438.4 101.7L533.8 152.6M311.1 122.9L438.4 86.3L533.8 137.2M311.1 107.6L438.4 71.0L533.8 121.9M311.1 92.3L438.4 55.7L533.8 106.6M311.1 77.0L438.4 40.4L533.8 91.3M311.1 61.6L438.4 25.0L533.8 75.9M311.1 46.3L438.4 9.7L533.8 60.6M533.8 183.2L533.8 60.6" stroke="#e8e8e8" stroke-width="0.7" fill="none"/>
<path d="M311.1 46.3L311.1 168.9L406.5 219.8L533.8 183.2" stroke="#9a9a9a" stroke-width="0.8" fill="none"/>
<path d="M311.1 46.2h-2M311.1 61.5h-2M311.1 76.8h-2M311.1 92.1h-2M311.1 107.4h-2M311.1 122.7h-2M311.1 138.0h-2M311.1 153.3h-2M311.1 168.6h-2M317.0 172.0l-1.8 1.4M332.9 180.5l-1.8 1.4M348.8 189.0l-1.8 1.4M364.7 197.5l-1.8 1.4M380.6 206.0l-1.8 1.4M396.5 214.5l-1.8 1.4M406.5 219.8l1.2 2M449.9 207.3l1.2 2M493.3 194.8l1.2 2" stroke="#9a9a9a" stroke-width="0.7" fill="none"/>
<path d="M433.9 174.0h0M441.6 123.5h0M418.6 140.3h0M439.0 156.7h0M447.0 146.7h0M423.8 155.2h0M425.1 183.0h0M417.6 183.6h0M403.3 175.5h0M410.0 151.3h0" stroke="#465ae6" stroke-width="1.6" stroke-linecap="round" opacity="0.75" fill="none"/>
<path d="M413.4 151.1h0M422.6 116.6h0M394.2 166.9h0M407.2 115.8h0M418.3 133.0h0M397.8 141.4h0M397.8 169.2h0M387.5 122.4h0M400.1 148.2h0M395.0 113.8h0M393.2 154.9h0M416.4 114.1h0M396.8 131.5h0M395.8 127.6h0M397.9 177.6h0M404.5 160.9h0M410.8 121.6h0" stroke="#466efa" stroke-width="1.6" stroke-linecap="round" opacity="0.75" fill="none"/>
<path d="M342.4 112.5h0M345.7 110.3h0M348.5 113.7h0M332.9 127.5h0M345.5 118.0h0M346.5 115.7h0M353.1 127.7h0M351.3 129.9h0" stroke="#3296e6" stroke-width="1.6" stroke-linecap="round" opacity="0.75" fill="none"/>
<path d="M411.2 153.7h0M432.5 138.6h0M414.2 174.0h0M426.6 165.8h0M422.0 127.6h0M429.4 155.8h0M422.4 165.5h0M422.9 127.9h0M414.3 183.1h0M434.4 123.8h0M422.4 157.9h0M420.2 170.2h0M368.7 162.1h0M420.8 179.2h0M433.0 125.5h0M399.6 171.2h0M413.8 145.0h0M414.0 140.8h0M443.0 129.2h0M416.7 181.8h0" stroke="#465afa" stroke-width="1.6" stroke-linecap="round" opacity="0.75" fill="none"/>
<path d="M443.9 140.0h0M434.8 163.6h0M462.8 157.1h0M457.7 141.2h0M450.5 181.0h0M443.0 163.8h0M440.9 162.0h0M432.2 161.4h0M456.2 138.2h0M448.9 167.9h0M456.1 167.9h0M469.6 157.1h0M434.4 176.4h0M434.2 177.3h0M423.0 189.2h0M441.4 145.1h0M462.0 164.0h0M448.9 143.1h0M447.6 173.5h0M461.2 136.7h0M435.4 175.6h0M466.5 146.3h0" stroke="#4646e6" stroke-width="1.6" stroke-linecap="round" opacity="0.75" fill="none"/>
<path d="M391.5 134.0h0M355.5 135.4h0M378.6 142.0h0M363.6 126.2h0M366.6 134.3h0M373.5 149.3h0M372.9 134.7h0M380.4 131.3h0M365.4 117.6h0M378.5 124.7h0M381.9 124.0h0M400.2 107.5h0M347.6 142.3h0M381.6 113.3h0M386.6 120.2h0M335.4 127.7h0M367.6 137.6h0M373.5 109.4h0M375.0 115.9h0M383.7 142.4h0M373.5 149.8h0M378.8 145.3h0M386.3 117.2h0M373.2 150.6h0M370.0 151.7h0" stroke="#3282fa" stroke-width="1.6" stroke-linecap="round" opacity="0.75" fill="none"/>
<path d="M359.6 138.3h0M363.8 117.6h0M355.1 132.0h0M370.3 107.1h0M360.3 143.7h0" stroke="#3296fa" stroke-width="1.6" stroke-linecap="round" opacity="0.75" fill="none"/>
<path d="M436.5 185.0h0M468.8 163.5h0M466.3 169.6h0" stroke="#4646d2" stroke-width="1.6" stroke-linecap="round" opacity="0.75" fill="none"/>
<path d="M346.6 106.7h0M342.3 123.7h0M347.4 119.4h0" stroke="#1e96e6" stroke-width="1.6" stroke-linecap="round" opacity="0.75" fill="none"/>
<path d="M326.1 116.6h0" stroke="#1eaae6" stroke-width="1.6" stroke-linecap="round" opacity="0.75" fill="none"/>
<path d="M469.9 171.0h0M480.9 169.0h0M474.8 173.0h0M457.6 157.0h0" stroke="#4632d2" stroke-width="1.6" stroke-linecap="round" opacity="0.75" fill="none"/>
<path d="M373.2 143.8h0M388.7 118.9h0M396.6 132.4h0" stroke="#326efa" stroke-width="1.6" stroke-linecap="round" opacity="0.75" fill="none"/>
<path d="M461.0 181.6h0M464.2 171.6h0M484.1 176.2h0" stroke="#4632be" stroke-width="1.6" stroke-linecap="round" opacity="0.75" fill="none"/>
<path d="M505.5 177.0h0" stroke="#461eaa" stroke-width="1.6" stroke-linecap="round" opacity="0.75" fill="none"/>
<path d="M348.3 130.5L409.5 125.3L476.5 177.6L409 183Z" fill="#58ee58" fill-opacity="0.84"/>
<path d="M415.5 115.9h0M329.2 121.8h0M403.2 123.8h0M350.4 112.6h0M371.4 103.1h0M416.2 90.8h0M458.2 125.9h0M417.0 154.5h0M459.8 109.9h0M384.2 121.5h0M374.1 114.9h0M395.6 121.2h0M355.5 129.6h0M438.1 152.9h0M419.7 96.8h0M436.1 108.6h0M472.3 128.4h0M488.6 134.2h0M408.0 108.7h0M422.3 131.8h0M339.0 112.9h0M390.8 100.9h0M366.6 128.0h0M379.6 95.3h0M427.7 109.8h0M391.6 118.3h0M406.3 94.0h0M343.9 120.4h0M333.8 113.2h0M355.2 112.4h0M407.8 120.0h0M410.3 117.7h0M439.1 150.1h0M367.0 122.4h0M415.5 88.6h0M422.4 119.2h0M384.7 106.3h0M392.7 118.4h0M442.7 106.5h0M356.7 101.9h0M454.5 116.4h0M463.8 108.2h0M367.6 123.0h0M463.3 143.5h0M371.8 139.5h0M445.7 108.2h0M409.3 120.9h0M407.6 97.9h0M498.5 130.5h0M417.0 103.2h0M354.0 112.2h0M397.1 134.2h0M385.3 126.7h0M470.7 124.8h0M381.3 142.8h0M459.0 112.8h0M466.7 131.8h0M327.4 117.5h0M393.2 115.6h0M351.3 112.7h0M425.2 116.7h0M448.6 139.4h0M441.7 99.4h0M336.2 110.9h0M433.3 120.1h0M405.2 126.2h0M451.5 104.9h0M344.6 118.6h0M321.1 111.0h0M403.3 142.9h0M334.3 119.9h0M406.1 124.7h0M453.6 133.5h0M411.5 140.7h0M473.4 117.5h0M353.6 110.7h0M350.7 106.5h0M382.1 140.9h0M419.6 142.9h0M491.8 125.7h0M398.7 149.9h0M437.2 133.4h0M430.0 130.3h0M360.5 126.7h0M407.5 121.5h0M378.8 127.5h0M431.3 145.1h0M388.7 107.1h0M416.7 157.7h0M393.7 138.8h0M376.1 121.8h0M429.7 152.1h0M338.7 119.5h0M386.2 148.5h0M476.7 139.2h0M387.6 132.3h0M401.4 120.3h0M323.9 108.9h0M381.2 106.0h0M414.9 112.4h0M444.4 106.9h0M346.1 104.7h0M379.8 127.4h0M356.5 127.0h0M324.2 114.1h0M419.7 114.0h0M354.3 128.8h0M401.1 90.0h0M419.8 116.4h0M345.6 119.2h0M453.7 111.3h0M461.2 127.0h0M462.8 131.2h0M350.1 108.2h0" stroke="#1eaae6" stroke-width="1.6" stroke-linecap="round" opacity="0.75" fill="none"/>
<path d="M427.3 140.1h0M424.5 117.2h0M421.9 169.3h0M430.4 172.3h0M399.2 157.9h0M444.8 167.4h0M440.9 116.1h0M418.7 135.2h0M416.6 145.1h0M431.7 158.9h0M422.9 133.8h0M438.0 128.4h0M465.1 141.6h0M434.7 134.2h0M406.8 157.3h0M459.3 141.9h0M433.5 169.6h0M417.7 147.9h0M426.4 173.9h0M445.7 151.6h0M453.8 129.7h0M412.3 164.6h0M411.8 138.4h0M453.9 132.6h0M479.8 158.4h0M480.3 136.3h0M420.0 153.7h0M413.1 121.3h0M433.6 120.5h0M424.6 157.8h0M440.8 130.6h0M419.5 125.5h0M393.5 169.2h0M415.3 170.9h0M410.0 169.4h0M456.6 156.3h0M483.6 156.6h0M443.8 152.2h0M453.4 125.0h0M434.3 124.2h0M421.9 133.5h0M478.3 137.8h0M480.9 153.4h0M437.5 120.3h0M425.3 131.9h0M463.3 136.7h0M464.1 141.4h0M407.9 152.1h0M400.0 168.5h0M445.9 151.9h0M416.3 163.1h0M405.4 170.6h0M469.8 132.7h0M456.9 135.0h0M425.3 144.6h0M487.8 136.1h0M471.0 138.1h0M432.0 128.9h0M461.3 159.4h0M419.9 150.9h0M434.7 156.2h0M402.3 160.3h0M419.6 144.5h0M433.3 168.0h0M412.1 170.5h0M417.4 171.3h0M431.9 117.7h0M413.9 155.2h0M481.8 157.8h0M471.7 165.4h0M446.8 166.2h0M423.9 142.2h0M425.0 172.7h0M430.4 139.4h0M441.5 124.3h0M420.2 152.0h0M432.5 160.7h0M413.8 173.0h0M406.0 143.2h0M420.6 111.4h0M451.4 165.6h0M440.9 136.0h0M424.1 145.1h0M403.2 164.8h0M431.2 171.1h0M442.6 138.5h0M435.1 136.5h0M418.8 152.7h0M437.3 149.5h0M432.3 143.2h0M413.7 159.4h0M452.5 145.7h0M428.0 170.4h0M463.6 133.9h0M426.4 113.5h0M410.5 134.2h0M413.4 146.3h0M428.5 132.1h0M439.0 132.5h0" stroke="#466efa" stroke-width="1.6" stroke-linecap="round" opacity="0.75" fill="none"/>
<path d="M465.2 110.8h0M337.3 98.7h0M397.0 123.9h0M378.3 85.0h0M381.3 96.1h0M369.4 80.6h0M385.2 97.7h0M347.0 106.7h0M392.7 87.3h0" stroke="#46d296" stroke-width="1.6" stroke-linecap="round" opacity="0.75" fill="none"/>
<path d="M422.2 94.3h0M336.9 70.8h0M350.8 65.6h0M344.9 73.1h0M341.4 90.5h0M346.6 69.9h0" stroke="#aabe5a" stroke-width="1.6" stroke-linecap="round" opacity="0.75" fill="none"/>
<path d="M371.0 118.1h0M327.9 110.0h0M475.6 117.2h0M469.9 117.5h0M432.6 112.3h0M477.5 134.9h0M459.5 142.0h0M409.6 150.7h0M325.8 113.8h0M409.3 140.6h0M390.2 93.2h0M453.7 116.3h0M479.2 109.3h0M474.7 121.8h0M396.8 124.1h0M328.1 113.8h0M445.5 137.4h0M348.3 99.3h0M390.5 96.5h0M338.2 123.8h0M396.5 95.9h0M381.6 102.4h0M363.1 104.4h0M368.4 108.3h0M394.3 129.8h0M331.2 107.0h0M389.1 129.0h0M440.5 110.1h0M468.5 113.6h0M335.0 109.0h0M421.5 87.9h0M410.4 103.0h0M346.4 103.4h0M389.6 97.7h0M398.9 151.8h0M392.8 143.5h0M340.0 107.9h0M365.7 133.5h0M358.6 111.8h0M456.3 143.0h0M350.8 113.7h0M444.8 115.9h0M372.8 107.0h0M378.0 97.5h0M399.6 95.4h0M388.8 127.4h0M361.1 123.1h0M391.0 141.8h0M422.1 127.3h0M395.5 118.6h0M428.0 113.4h0M417.6 117.1h0M425.8 133.9h0M375.8 102.9h0M439.5 127.2h0M463.9 107.3h0M342.9 103.0h0M471.5 117.2h0M412.3 128.3h0M361.9 118.0h0M457.8 101.8h0M417.9 132.4h0M419.4 140.7h0M344.7 110.2h0M402.8 114.3h0M431.7 105.5h0M430.2 148.0h0M409.0 157.4h0M428.7 102.2h0M455.8 99.4h0M406.0 123.0h0M452.7 132.2h0M406.2 78.2h0M377.7 111.4h0M352.8 120.9h0M323.1 103.6h0M435.4 109.2h0M352.4 117.1h0M328.4 119.4h0M334.8 104.6h0" stroke="#1eaad2" stroke-width="1.6" stroke-linecap="round" opacity="0.75" fill="none"/>
<path d="M453.7 108.4h0M331.6 101.9h0M423.8 116.3h0M376.0 95.9h0M395.7 137.4h0M408.7 93.0h0M403.2 93.4h0M406.9 92.8h0M448.1 96.2h0M403.4 134.1h0M360.4 99.7h0M439.7 84.0h0M379.7 123.3h0M409.8 137.9h0M361.6 111.6h0M435.2 138.4h0M394.3 109.8h0M435.2 81.8h0M379.2 97.8h0M383.9 105.6h0M363.7 90.6h0M393.2 128.9h0M330.4 107.6h0M351.7 110.5h0M329.3 102.8h0M391.4 88.9h0M412.3 126.4h0M352.2 87.8h0M369.3 96.9h0M384.1 135.2h0M461.9 115.8h0M451.5 96.5h0M393.2 135.4h0M378.3 86.3h0M448.9 132.9h0M374.8 114.8h0M435.9 122.1h0M401.0 112.6h0M428.1 121.9h0M489.2 109.6h0M436.8 121.9h0M402.3 146.1h0M373.5 95.2h0M403.8 117.6h0M368.4 130.1h0M395.9 111.8h0M454.0 94.0h0M398.8 79.9h0" stroke="#0abebe" stroke-width="1.6" stroke-linecap="round" opacity="0.75" fill="none"/>
<path d="M374.7 129.7h0M478.5 117.5h0M440.0 111.6h0M459.4 115.8h0M409.8 128.9h0M353.8 116.4h0M356.4 137.0h0M421.4 90.4h0M368.8 115.5h0M358.8 119.1h0M393.3 144.2h0M411.7 148.9h0M406.5 146.3h0M450.1 130.1h0M405.7 108.2h0M399.8 131.0h0M394.7 96.0h0M422.7 108.5h0M416.3 113.0h0M423.9 108.9h0M417.8 119.7h0M403.8 135.3h0M344.1 125.7h0M372.4 104.4h0M411.6 151.7h0M372.8 134.1h0M352.1 123.3h0M447.1 120.7h0M371.1 123.8h0M422.9 148.7h0M353.5 136.1h0M379.3 123.8h0M365.9 104.9h0M343.4 127.6h0M465.0 111.7h0M386.6 114.5h0M368.2 123.3h0M477.0 118.9h0M403.3 126.0h0M469.8 119.1h0M389.6 154.7h0M403.6 142.4h0M426.4 158.4h0M442.6 136.5h0M373.7 111.0h0M405.4 105.9h0M468.3 135.7h0M459.9 112.0h0M467.7 120.2h0M472.4 146.0h0M408.1 109.7h0M405.9 90.5h0M379.4 103.0h0M346.6 134.7h0M467.5 114.9h0M485.1 125.4h0M489.3 129.4h0M425.4 119.2h0M363.8 117.4h0M403.8 116.8h0M342.9 124.4h0M351.9 113.9h0M379.8 141.7h0M394.1 130.8h0" stroke="#1e96e6" stroke-width="1.6" stroke-linecap="round" opacity="0.75" fill="none"/>
<path d="M455.5 128.6h0M448.4 148.9h0M465.5 146.8h0M481.1 154.8h0M433.1 156.0h0M490.3 159.0h0M447.3 139.6h0M490.6 166.1h0M447.4 147.1h0M448.5 134.1h0M479.2 162.5h0M470.4 166.4h0M490.5 147.9h0M436.4 122.3h0M465.0 145.5h0M481.5 153.0h0M447.2 125.5h0M444.5 161.3h0M413.1 170.7h0M443.4 161.5h0M442.8 178.7h0M435.2 161.6h0M472.8 143.9h0M435.7 161.3h0M436.5 171.6h0M442.3 129.6h0M447.4 151.5h0M448.6 136.8h0M438.8 135.4h0M440.2 120.9h0M443.4 137.7h0M483.7 144.0h0M435.5 166.1h0M439.8 156.8h0M439.9 167.6h0M470.1 163.9h0M499.5 151.1h0M447.1 154.3h0M438.5 157.9h0M459.7 166.6h0M451.3 163.2h0M423.6 153.8h0M446.2 158.2h0M441.0 143.1h0M446.4 147.0h0M470.0 167.8h0M422.8 176.7h0M451.9 173.0h0M462.9 131.7h0M447.2 174.4h0M441.7 122.8h0M476.5 150.8h0M449.2 150.7h0M439.9 169.3h0M436.6 176.1h0M461.7 161.7h0M441.1 171.4h0" stroke="#465afa" stroke-width="1.6" stroke-linecap="round" opacity="0.75" fill="none"/>
<path d="M482.0 137.2h0M406.9 111.7h0M431.7 119.3h0M391.4 105.8h0M421.1 114.6h0M396.2 118.4h0M384.6 131.0h0M476.6 138.9h0M398.1 106.0h0M451.3 141.8h0M397.1 135.8h0M395.3 124.6h0M397.4 164.7h0M420.6 138.6h0M454.8 136.1h0M388.8 145.3h0M402.9 139.3h0M404.3 112.1h0M437.9 112.0h0M420.0 115.8h0M423.7 148.2h0M382.1 158.8h0M404.5 144.4h0M429.0 155.2h0M417.4 167.0h0M400.8 161.2h0M401.0 146.7h0M372.3 135.2h0M442.8 133.1h0M447.0 139.2h0M397.9 154.4h0M392.8 126.9h0M422.1 112.0h0M425.8 121.7h0M489.0 140.1h0M495.8 139.2h0M405.4 152.7h0M449.6 155.9h0M389.8 136.6h0M392.2 117.0h0M412.8 115.7h0M404.2 128.7h0M370.7 134.0h0M441.0 136.9h0M437.0 139.6h0M407.5 103.3h0M361.6 144.4h0M389.1 113.8h0M397.7 156.2h0M467.5 155.1h0M407.0 109.2h0M432.6 156.6h0M380.5 122.1h0M424.8 136.5h0M382.8 151.9h0M396.1 105.3h0M396.1 139.5h0M394.8 142.4h0M473.9 130.1h0M394.0 125.2h0M413.7 96.6h0M420.8 136.7h0M444.5 117.3h0M391.7 142.1h0M403.4 106.2h0M383.4 119.3h0M392.9 162.3h0M401.1 129.4h0M470.8 129.5h0M411.7 109.3h0M404.5 136.2h0M388.4 132.0h0M375.7 154.5h0M447.8 136.2h0M387.3 126.0h0M403.4 119.8h0M386.9 135.9h0M382.7 122.2h0M396.0 119.2h0M481.2 130.4h0M381.5 158.6h0M377.9 112.1h0M417.3 112.6h0M402.8 116.0h0M377.0 137.2h0M404.6 106.7h0M425.4 124.4h0M412.5 167.8h0M410.5 139.6h0M412.7 116.1h0M406.1 173.1h0M409.1 114.1h0M377.5 155.9h0M455.9 144.6h0M445.8 123.2h0M374.0 122.3h0M376.1 148.5h0M386.4 131.0h0M478.6 134.6h0M395.4 164.3h0M454.8 119.4h0M461.3 139.6h0M403.2 116.9h0M412.9 125.3h0M509.8 142.1h0M400.4 150.7h0M393.3 166.0h0M402.9 134.5h0M374.2 126.5h0M386.3 138.9h0M436.2 124.6h0M418.7 123.2h0M413.6 106.6h0M433.0 116.4h0M379.7 153.1h0M410.3 158.0h0M419.1 104.8h0M413.5 105.0h0M413.1 128.5h0M416.6 104.1h0M419.0 135.6h0M406.0 160.2h0M397.2 150.4h0M396.1 130.3h0M418.2 171.4h0M422.8 111.3h0M370.4 138.4h0M395.4 132.6h0M416.8 161.8h0M429.2 109.3h0" stroke="#3282fa" stroke-width="1.6" stroke-linecap="round" opacity="0.75" fill="none"/>
<path d="M453.0 165.5h0M447.4 162.0h0M500.6 169.4h0M459.3 150.5h0M496.4 161.8h0M472.5 162.8h0M482.9 167.1h0M475.9 161.1h0M473.6 167.9h0M462.7 140.7h0M466.0 139.5h0M465.6 161.9h0M473.8 143.1h0M462.5 160.6h0M457.1 168.7h0M488.4 158.2h0M487.8 160.0h0M455.0 159.0h0M439.9 181.3h0M457.5 180.2h0M473.1 154.9h0M474.3 165.1h0M477.6 161.0h0M468.6 173.1h0M465.8 152.2h0M466.8 149.9h0M472.0 144.2h0M460.0 176.5h0M490.7 163.1h0M479.3 148.3h0M482.0 168.0h0M469.1 150.6h0" stroke="#4646e6" stroke-width="1.6" stroke-linecap="round" opacity="0.75" fill="none"/>
<path d="M394.0 81.1h0M412.6 83.6h0M368.5 91.6h0M386.3 95.1h0M408.9 119.2h0M362.7 85.0h0M342.9 93.7h0M389.7 114.1h0M414.6 61.7h0M409.7 93.5h0M389.2 100.0h0M392.2 83.0h0M355.2 81.7h0M404.6 87.3h0" stroke="#46d282" stroke-width="1.6" stroke-linecap="round" opacity="0.75" fill="none"/>
<path d="M364.5 92.8h0M429.2 81.2h0M350.4 86.7h0M355.4 78.2h0M405.0 82.8h0M397.2 92.1h0M436.1 74.8h0M364.4 106.1h0M356.8 85.6h0M439.9 112.2h0M393.5 90.9h0M410.9 131.6h0M331.9 100.5h0M410.9 108.5h0M412.1 71.6h0M417.2 126.3h0M403.2 120.9h0M389.9 101.0h0M402.7 99.5h0M384.4 97.7h0M332.2 95.7h0M336.5 91.1h0M429.2 98.1h0M421.7 106.4h0M354.6 97.1h0M390.1 84.4h0M354.8 85.2h0M409.2 97.1h0M330.0 92.9h0M379.2 84.4h0M396.7 84.9h0M394.7 79.7h0M377.3 115.9h0M405.5 96.0h0M377.9 103.1h0" stroke="#32be96" stroke-width="1.6" stroke-linecap="round" opacity="0.75" fill="none"/>
<path d="M328.0 81.6h0M367.3 92.2h0M415.2 116.8h0M332.5 77.3h0M334.1 79.6h0M327.5 66.3h0M425.9 74.7h0M337.2 75.3h0M396.9 56.0h0M393.5 104.1h0M339.8 66.0h0" stroke="#bebe46" stroke-width="1.6" stroke-linecap="round" opacity="0.75" fill="none"/>
<path d="M379.0 72.2h0M380.4 75.2h0M416.0 95.1h0M429.9 68.7h0M383.9 87.2h0M370.6 86.2h0M363.7 73.9h0M434.4 124.4h0M388.6 84.8h0M399.7 108.4h0M339.1 88.0h0M364.1 90.3h0M381.6 100.8h0M376.2 92.8h0M365.9 99.6h0M372.7 73.1h0M391.8 65.1h0M375.2 97.6h0M479.7 98.5h0M380.7 64.1h0" stroke="#6ed26e" stroke-width="1.6" stroke-linecap="round" opacity="0.75" fill="none"/>
<path d="M373.0 115.8h0M365.9 109.8h0M471.3 130.4h0M424.9 149.0h0M364.6 107.7h0M381.6 117.7h0M435.2 151.5h0M439.4 149.8h0M431.8 128.7h0M378.4 101.1h0M381.0 131.3h0M394.1 146.7h0M422.9 115.6h0M400.3 119.0h0M458.1 119.6h0M401.6 122.2h0M361.6 110.0h0M441.1 154.0h0M387.4 152.7h0M428.8 136.9h0M389.9 138.1h0M427.8 148.1h0M429.3 103.0h0M417.5 163.2h0M444.0 142.7h0M389.2 133.8h0M402.5 110.8h0M399.4 139.8h0M462.8 132.8h0M445.2 137.6h0M408.1 148.1h0M410.2 140.0h0M387.6 102.3h0M481.7 140.2h0M376.2 125.3h0M430.9 158.0h0M433.5 160.6h0M378.8 104.8h0M379.9 147.4h0M387.6 113.9h0M467.7 145.3h0M393.4 101.2h0M363.9 144.0h0M455.2 154.9h0M357.6 144.1h0M394.5 111.9h0M410.8 132.6h0M386.6 122.3h0M434.4 122.5h0M368.1 145.3h0M438.1 126.2h0M387.8 135.6h0M469.8 145.0h0M440.5 158.0h0M435.4 156.5h0M446.5 110.6h0M459.5 128.5h0M380.1 123.8h0M447.5 127.5h0M376.0 126.4h0" stroke="#3296e6" stroke-width="1.6" stroke-linecap="round" opacity="0.75" fill="none"/>
<path d="M383.5 72.8h0" stroke="#46be96" stroke-width="1.6" stroke-linecap="round" opacity="0.75" fill="none"/>
<path d="M451.9 104.7h0M468.5 117.3h0M438.4 105.9h0M401.3 142.9h0M370.5 123.4h0M386.4 101.3h0M415.3 106.7h0M436.0 126.9h0M387.3 98.0h0M352.3 96.5h0M367.1 94.4h0M394.2 88.4h0M470.6 105.4h0M366.4 96.1h0M355.0 94.2h0M471.7 108.9h0M400.7 124.8h0M350.9 114.8h0M377.1 96.6h0M386.5 115.4h0M374.7 103.2h0M461.1 130.4h0M455.3 126.6h0M452.3 120.6h0M408.3 136.7h0M456.1 99.8h0M427.8 116.9h0M475.8 125.7h0M437.2 106.5h0M343.7 106.4h0M388.5 127.7h0M411.5 99.8h0M393.4 87.5h0M407.6 124.9h0M351.3 103.0h0M400.7 98.9h0" stroke="#1ebed2" stroke-width="1.6" stroke-linecap="round" opacity="0.75" fill="none"/>
<path d="M354.8 97.8h0M406.5 109.0h0M420.1 113.7h0M338.7 109.6h0M361.4 97.6h0M444.1 103.9h0M367.8 98.9h0M421.9 99.1h0M407.0 122.5h0M426.6 130.0h0M348.2 114.1h0M385.1 123.3h0M421.1 109.4h0M406.8 103.2h0M392.6 84.8h0M418.5 103.7h0M414.3 81.7h0M390.8 107.4h0M425.2 88.2h0M386.1 124.1h0M328.6 94.1h0M428.5 134.2h0M416.4 113.7h0M390.5 96.3h0M375.4 118.3h0M422.0 134.0h0M415.1 144.5h0M377.8 116.0h0M357.2 108.8h0M393.5 136.3h0M399.5 96.5h0M420.2 99.4h0M393.1 107.0h0M379.9 133.3h0M373.2 94.3h0M434.0 113.6h0M406.3 73.0h0M389.7 104.4h0M430.4 96.8h0M375.3 86.4h0M367.9 82.2h0M378.7 119.9h0M437.7 94.7h0" stroke="#1ebeaa" stroke-width="1.6" stroke-linecap="round" opacity="0.75" fill="none"/>
<path d="M437.1 114.6h0M369.7 99.0h0M421.9 133.3h0M412.1 92.4h0M397.5 135.0h0M369.9 113.2h0M415.0 110.1h0M460.8 91.2h0M459.0 133.4h0M432.5 134.2h0M360.6 89.7h0M343.4 114.6h0M425.0 91.2h0M338.4 91.9h0M433.5 87.9h0M420.8 138.2h0M440.7 137.6h0M422.2 87.9h0M446.3 122.3h0M436.0 106.9h0M406.8 110.4h0M371.0 113.8h0M424.9 120.0h0M351.9 111.5h0M381.8 103.9h0M375.7 112.2h0M401.4 139.3h0M381.8 127.6h0M460.8 97.1h0M342.2 113.6h0M424.3 95.2h0M402.7 100.7h0M358.8 97.3h0M414.6 107.7h0M483.9 119.8h0M423.9 104.0h0M423.2 100.5h0M378.0 97.9h0M421.3 139.0h0M398.7 94.1h0M391.5 141.5h0M419.4 88.5h0M362.6 120.5h0M410.2 95.8h0M322.6 102.1h0M428.1 96.0h0M408.0 141.1h0M348.6 116.7h0M450.2 102.9h0M390.5 96.4h0" stroke="#1ebebe" stroke-width="1.6" stroke-linecap="round" opacity="0.75" fill="none"/>
<path d="M429.2 146.7h0M408.9 131.8h0M394.6 141.4h0M408.3 122.4h0M378.4 148.2h0M371.2 126.4h0M372.4 141.8h0M401.2 164.3h0M398.2 153.1h0M361.0 141.8h0M404.7 105.0h0M496.5 145.2h0M407.2 96.5h0M422.6 101.0h0M406.5 107.5h0M397.6 149.8h0M423.7 119.6h0M415.6 116.3h0M419.4 127.0h0M377.2 134.5h0M403.7 148.7h0M373.5 110.7h0M391.3 140.2h0M385.1 149.2h0M458.1 151.1h0M452.0 156.9h0M363.0 145.6h0M395.9 109.4h0M376.5 131.4h0M419.7 153.1h0M399.1 125.3h0M381.6 119.5h0M383.6 112.7h0M369.8 139.3h0M396.4 120.7h0M387.6 117.2h0M384.0 153.7h0M430.5 148.3h0M416.6 98.1h0M415.6 113.9h0M409.4 98.0h0M378.5 117.0h0M381.5 128.7h0" stroke="#3296fa" stroke-width="1.6" stroke-linecap="round" opacity="0.75" fill="none"/>
<path d="M341.9 91.8h0M398.2 83.4h0M341.4 80.7h0M345.4 86.2h0M355.7 88.2h0M367.7 68.3h0M349.4 76.3h0M340.5 74.0h0M373.3 104.8h0M357.0 79.1h0M433.2 110.6h0M349.1 84.9h0" stroke="#96be5a" stroke-width="1.6" stroke-linecap="round" opacity="0.75" fill="none"/>
<path d="M396.8 81.7h0" stroke="#6ed282" stroke-width="1.6" stroke-linecap="round" opacity="0.75" fill="none"/>
<path d="M479.1 109.6h0M401.0 138.2h0M397.6 95.1h0M420.6 80.2h0M350.1 113.1h0M408.3 103.5h0M413.0 92.9h0M406.9 79.3h0M385.7 131.5h0M330.3 92.6h0M400.1 138.5h0M390.0 74.7h0M410.7 129.7h0" stroke="#32beaa" stroke-width="1.6" stroke-linecap="round" opacity="0.75" fill="none"/>
<path d="M362.5 94.6h0M388.2 66.1h0M371.8 70.0h0M439.3 74.2h0M334.5 87.2h0M369.9 97.5h0M431.5 62.1h0M321.6 83.2h0M436.1 68.3h0M363.5 96.5h0M339.1 90.1h0" stroke="#82be6e" stroke-width="1.6" stroke-linecap="round" opacity="0.75" fill="none"/>
<path d="M356.2 95.7h0M333.8 83.1h0M382.4 96.8h0M378.5 78.4h0M365.9 82.0h0M393.1 73.2h0M397.9 112.1h0M366.9 82.6h0M370.5 73.8h0M387.1 122.7h0M349.7 98.8h0M361.3 85.0h0M378.6 107.6h0M370.8 71.5h0M360.4 101.2h0M351.4 96.7h0M326.8 83.2h0M426.6 80.8h0M349.2 91.5h0M390.9 72.2h0" stroke="#5ad282" stroke-width="1.6" stroke-linecap="round" opacity="0.75" fill="none"/>
<path d="M400.8 134.7h0M395.8 159.1h0M466.0 128.6h0M478.8 134.2h0M415.7 176.4h0M392.9 166.2h0M409.8 120.7h0M429.0 142.6h0M435.5 142.3h0M431.7 159.0h0M413.3 118.6h0M459.1 125.5h0M420.0 136.0h0M386.5 163.0h0M406.5 156.3h0M410.8 163.9h0M413.2 116.0h0M406.6 120.9h0M390.6 153.6h0" stroke="#326efa" stroke-width="1.6" stroke-linecap="round" opacity="0.75" fill="none"/>
<path d="M373.7 87.3h0M376.7 65.2h0M348.8 82.9h0M380.2 75.8h0M382.6 64.7h0" stroke="#e6be32" stroke-width="1.6" stroke-linecap="round" opacity="0.75" fill="none"/>
<path d="M440.8 173.2h0M441.3 162.5h0M455.0 158.4h0M449.1 131.3h0M446.6 162.9h0M465.2 138.7h0M451.7 129.2h0M455.3 153.5h0M447.2 158.2h0" stroke="#465ae6" stroke-width="1.6" stroke-linecap="round" opacity="0.75" fill="none"/>
<path d="M381.7 68.5h0M364.6 96.4h0M375.6 58.8h0" stroke="#d2be46" stroke-width="1.6" stroke-linecap="round" opacity="0.75" fill="none"/>
<path d="M503.2 171.2h0M497.8 169.7h0" stroke="#4632be" stroke-width="1.6" stroke-linecap="round" opacity="0.75" fill="none"/>
<path d="M478.0 161.3h0M481.6 151.5h0M492.2 166.3h0M472.0 174.8h0" stroke="#4646d2" stroke-width="1.6" stroke-linecap="round" opacity="0.75" fill="none"/>
<path d="M496.2 166.5h0M489.5 167.5h0M486.9 159.3h0M498.6 171.0h0M488.3 174.0h0M481.9 153.3h0" stroke="#4632d2" stroke-width="1.6" stroke-linecap="round" opacity="0.75" fill="none"/>
<path d="M366.9 68.6h0" stroke="#d2be32" stroke-width="1.6" stroke-linecap="round" opacity="0.75" fill="none"/>
<path d="M331.0 53.6h0M350.8 78.3h0M353.8 56.6h0" stroke="#fabe32" stroke-width="1.6" stroke-linecap="round" opacity="0.75" fill="none"/>
<path d="M368.4 82.6h0" stroke="#96be6e" stroke-width="1.6" stroke-linecap="round" opacity="0.75" fill="none"/>
<circle cx="394" cy="137" r="3.3" fill="#56d84a" stroke="#3a9a36" stroke-width="0.9"/>
<circle cx="428.5" cy="151" r="3.3" fill="#56d84a" stroke="#3a9a36" stroke-width="0.9"/>
<circle cx="407.5" cy="173.5" r="3.3" fill="#56d84a" stroke="#3a9a36" stroke-width="0.9"/>
<rect x="411.3" y="151.3" width="6.4" height="6.4" fill="#d9a050" stroke="#a07838" stroke-width="0.6"/>
<circle cx="356.5" cy="133" r="3.1" fill="#16e02a" stroke="#0a2a0a" stroke-width="1.5"/>
<circle cx="407.5" cy="128" r="3.1" fill="#16e02a" stroke="#0a2a0a" stroke-width="1.5"/>
<circle cx="408" cy="147.5" r="3.1" fill="#16e02a" stroke="#0a2a0a" stroke-width="1.5"/>
<circle cx="391.5" cy="155.5" r="3.1" fill="#16e02a" stroke="#0a2a0a" stroke-width="1.5"/>
<circle cx="432" cy="169.5" r="3.1" fill="#16e02a" stroke="#0a2a0a" stroke-width="1.5"/>
<circle cx="461.5" cy="171" r="3.1" fill="#16e02a" stroke="#0a2a0a" stroke-width="1.5"/>
<text x="306.8" y="48.9" font-size="8.1" fill="#333" text-anchor="end" stroke="#333" stroke-width="0.35">1.8</text>
<text x="306.8" y="64.1" font-size="8.1" fill="#333" text-anchor="end" stroke="#333" stroke-width="0.35">1.6</text>
<text x="306.8" y="79.3" font-size="8.1" fill="#333" text-anchor="end" stroke="#333" stroke-width="0.35">1.4</text>
<text x="306.8" y="94.5" font-size="8.1" fill="#333" text-anchor="end" stroke="#333" stroke-width="0.35">1.2</text>
<text x="306.8" y="109.7" font-size="8.1" fill="#333" text-anchor="end" stroke="#333" stroke-width="0.35">1</text>
<text x="306.8" y="124.9" font-size="8.1" fill="#333" text-anchor="end" stroke="#333" stroke-width="0.35">0.8</text>
<text x="306.8" y="140.1" font-size="8.1" fill="#333" text-anchor="end" stroke="#333" stroke-width="0.35">0.6</text>
<text x="306.8" y="155.3" font-size="8.1" fill="#333" text-anchor="end" stroke="#333" stroke-width="0.35">0.4</text>
<text x="306.8" y="170.5" font-size="8.1" fill="#333" text-anchor="end" stroke="#333" stroke-width="0.35">0.2</text>
<text x="293.7" y="37.8" font-size="9.2" fill="#333" stroke="#333" stroke-width="0.4">[m]</text>
<text x="331.8" y="190.8" font-size="8.5" fill="#333" stroke="#333" stroke-width="0.3" text-anchor="end">3476997.2</text>
<text x="364.4" y="206.8" font-size="8.5" fill="#333" stroke="#333" stroke-width="0.3" text-anchor="end">3476997.6</text>
<text x="392" y="223.7" font-size="8.5" fill="#333" stroke="#333" stroke-width="0.3" text-anchor="end">3476998</text>
<text x="409.8" y="229.3" font-size="8.5" fill="#333" stroke="#333" stroke-width="0.3">471786</text>
<text x="494.9" y="204.5" font-size="8.5" fill="#333" stroke="#333" stroke-width="0.3">471787</text>
<text x="290" y="221.6" font-size="10.7" font-weight="bold" fill="#2e2e2e">EAST <tspan font-weight="normal" font-size="9.6" stroke="#2e2e2e" stroke-width="0.3">[m]</tspan></text>
<text x="483.2" y="226.5" font-size="10.6" font-weight="bold" fill="#2e2e2e">NORTH <tspan font-weight="normal" font-size="9.6" stroke="#2e2e2e" stroke-width="0.3">[m]</tspan></text>
<rect x="317.6" y="14.2" width="172.7" height="31" fill="#fff" stroke="#666" stroke-width="0.7"/>
<path d="M322.5 18h0M325.5 17h0M328 19.5h0M324 21h0M330.5 18h0M327 22.5h0M331.5 23h0M329.5 21h0" stroke="#3ab07a" stroke-width="1.1" stroke-linecap="round"/>
<text x="338.4" y="23.4" font-size="6.4" font-weight="bold" fill="#474c3c">POINT CLOUD</text>
<rect x="321.9" y="30.4" width="10.4" height="6.5" fill="#7cf27c"/>
<text x="338.4" y="33.1" font-size="6.4" font-weight="bold" fill="#474c3c">LEAST -SQUARE</text>
<text x="338.4" y="40.2" font-size="6.4" font-weight="bold" fill="#474c3c">REGRESSION PLANE</text>
<circle cx="417" cy="21.5" r="3" fill="#16e02a" stroke="#0a2a0a" stroke-width="1.1"/>
<text x="425.2" y="24.2" font-size="7" font-weight="bold" fill="#333">Z</text>
<text x="431.8" y="19.8" font-size="3" fill="#555">min</text>
<text x="430.6" y="25.2" font-size="3.3" fill="#555">PCn,e</text>
<rect x="413.9" y="31.7" width="6.2" height="6.2" fill="#f01010" stroke="#3a0a0a" stroke-width="0.7"/>
<text x="425" y="33.5" font-size="5.9" font-weight="bold" fill="#1a1a1a">PREDICTED GROUND</text>
<text x="425" y="40.7" font-size="5.9" font-weight="bold" fill="#1a1a1a">ELEVATION</text>
<text x="406.8" y="248.4" font-family="'Liberation Serif',serif" font-size="13.8" fill="#111" text-anchor="middle">(<tspan font-weight="bold">b</tspan>)</text>
</g>
<g id="pc">
<path d="M14.8 253L19 277.6M28.5 253L25.4 280.6M40.2 253L42.7 289.3M52.2 253L54 295.2M66.7 253L69.2 303.5M81 253L83.5 311.9M107 253L110.5 331.6M121.6 253L125.5 344.7M127.2 253L124.5 343.8M144.7 253L147 364.0M160.4 253L171.7 372.0M188 253L182 389.0M207.5 280L207.7 420.2M224 253L217 428.9M245.7 253L249.9 461.6M265.5 253L264.8 478.0" stroke="#a9d9a3" stroke-width="0.7" fill="none"/>
<path d="M44.4 254V462M110 254V462M175.5 254V462M241.6 254V462" stroke="#d9d9d9" stroke-width="0.8" stroke-dasharray="3.5 2" fill="none"/>
<path d="M11.5 273.1C14.6 274.6 23.7 278.7 30.0 281.8C36.3 284.9 43.3 288.6 49.1 291.6C54.9 294.7 59.9 297.2 65.0 300.1C70.2 303.0 75.8 306.2 80.0 308.7C84.2 311.2 86.4 312.6 90.0 315.1C93.6 317.6 97.8 320.5 101.7 323.5C105.6 326.5 109.6 329.7 113.5 333.0C117.4 336.3 121.9 340.4 125.2 343.4C128.5 346.4 128.5 346.6 133.4 351.0C138.3 355.4 148.9 364.5 154.9 370.0C160.9 375.5 164.7 379.2 169.5 383.8C174.3 388.4 178.9 393.1 184.0 397.8C189.1 402.5 194.9 407.4 199.9 412.0C204.9 416.6 209.4 420.7 214.2 425.2C219.0 429.7 223.8 434.4 228.7 439.1C233.5 443.8 238.6 448.8 243.3 453.6C248.0 458.5 252.7 463.4 257.1 468.2C261.5 473.0 267.4 480.0 269.5 482.4L257.0 482.4C254.8 480.0 248.5 473.0 244.0 468.2C239.5 463.4 234.9 458.4 230.2 453.6C225.5 448.9 220.8 444.3 216.0 439.7C211.2 435.1 206.4 430.5 201.6 426.0C196.8 421.5 192.0 417.4 187.0 412.8C182.0 408.2 176.7 403.4 171.6 398.6C166.5 393.8 161.4 388.9 156.4 384.2C151.4 379.5 147.0 375.4 141.8 370.5C136.6 365.6 129.9 359.5 125.2 355.1C120.5 350.7 117.4 347.6 113.5 344.1C109.6 340.6 105.6 337.3 101.7 334.1C97.8 330.9 93.6 327.6 90.0 325.1C86.4 322.6 84.2 321.3 80.0 318.9C75.8 316.4 70.2 313.2 65.0 310.4C59.9 307.6 54.9 305.0 49.1 301.9C43.3 298.8 36.3 295.0 30.0 291.8C23.7 288.6 14.6 284.4 11.5 282.9Z" fill="#a46a30" stroke="#7a4c22" stroke-width="0.8" stroke-linejoin="round"/>
<path d="M47 254L241.1 416.2" stroke="#1fe81f" stroke-width="1.5" stroke-dasharray="13 0.9" fill="none"/>
<circle cx="85.5" cy="273.2" r="7.8" fill="#2fe82f" stroke="#156a15" stroke-width="0.7"/>
<circle cx="157.9" cy="332.5" r="7.2" fill="#2fe82f" stroke="#156a15" stroke-width="0.7"/>
<circle cx="226.4" cy="421.1" r="7.8" fill="#2fe82f" stroke="#156a15" stroke-width="0.7"/>
<path d="M85.5 273.4L49.8 299.1M148.8 291L155.6 326M184.8 323.8L159.5 336.5M184.8 323.8L219.6 340.4L243.9 352.3M109.4 354.3L141.6 333.7M161.4 401.4L170.6 371.1M161.4 401.4L182.7 380.6M200.6 430.3L219 423.8M195.1 364.5L197.4 378.5" stroke="#1a1a1a" stroke-width="1" fill="none"/>
<path d="M85.5 273.4V285.2M158.2 333V346.2M226.4 403.5V421.1M219.7 340.4V398" stroke="#1a35f0" stroke-width="1.7" fill="none"/>
<circle cx="85.5" cy="273.4" r="2.2" fill="#1030e8" stroke="#050520" stroke-width="1.1"/>
<circle cx="85.5" cy="285.2" r="2.2" fill="#1030e8" stroke="#050520" stroke-width="1.1"/>
<circle cx="104.3" cy="258.4" r="2.2" fill="#1030e8" stroke="#050520" stroke-width="1.1"/>
<circle cx="130.5" cy="290.7" r="2.2" fill="#1030e8" stroke="#050520" stroke-width="1.1"/>
<circle cx="188" cy="261.1" r="2.2" fill="#1030e8" stroke="#050520" stroke-width="1.1"/>
<circle cx="219.6" cy="270.6" r="2.2" fill="#1030e8" stroke="#050520" stroke-width="1.1"/>
<circle cx="168.2" cy="306.2" r="2.2" fill="#1030e8" stroke="#050520" stroke-width="1.1"/>
<circle cx="158.2" cy="333" r="2.2" fill="#1030e8" stroke="#050520" stroke-width="1.1"/>
<circle cx="158.2" cy="346.2" r="2.2" fill="#1030e8" stroke="#050520" stroke-width="1.1"/>
<circle cx="219.6" cy="340.4" r="2.2" fill="#1030e8" stroke="#050520" stroke-width="1.1"/>
<circle cx="226.4" cy="403.5" r="2.2" fill="#1030e8" stroke="#050520" stroke-width="1.1"/>
<circle cx="226.4" cy="421.1" r="2.2" fill="#1030e8" stroke="#050520" stroke-width="1.1"/>
<circle cx="142.4" cy="333" r="2.1" fill="#d2be10" stroke="#1a1a1a" stroke-width="1.1"/>
<rect x="133.6" y="346" width="17" height="16" fill="#fb0a0a" stroke="#200" stroke-width="0.9"/>
<text x="21" y="318.3" font-size="10.8" font-weight="bold" fill="#111" stroke="#111" stroke-width="0.6" textLength="8.7" lengthAdjust="spacingAndGlyphs">Z</text>
<text x="31.7" y="307.5" font-size="10.2" font-weight="bold" fill="#2a2a2a">min</text>
<text x="31.7" y="321.4" font-size="9.4" font-weight="bold" fill="#3a3a3a">PC<tspan font-size="6.6" letter-spacing="0.25">n,e-1</tspan></text>
<text x="141.1" y="285.9" font-size="10.8" font-weight="bold" fill="#111" stroke="#111" stroke-width="0.6" textLength="8.7" lengthAdjust="spacingAndGlyphs">Z</text>
<text x="154.3" y="275.6" font-size="10.2" font-weight="bold" fill="#2a2a2a">min</text>
<text x="154" y="289.8" font-size="9.8" font-weight="bold" fill="#3a3a3a">PC<tspan font-size="6.6" letter-spacing="0.25">n,e</tspan></text>
<text x="48" y="367.7" font-size="15.4" font-weight="bold" fill="#222">(0,0,β<tspan font-size="7.9" font-weight="normal" stroke="#222" stroke-width="0.2">0,n,e</tspan>)</text>
<text x="181.4" y="321.2" font-size="11.5" font-weight="bold" fill="#222" textLength="8.4" lengthAdjust="spacingAndGlyphs">Δ</text>
<text x="192.2" y="321.2" font-size="10.8" font-weight="bold" fill="#111" stroke="#111" stroke-width="0.6" textLength="8.7" lengthAdjust="spacingAndGlyphs">Z</text>
<text x="203.8" y="311.2" font-size="10" font-weight="bold" fill="#2a2a2a">surface</text>
<text x="203.8" y="323.4" font-size="8.6" font-weight="bold" fill="#2a2a2a">s</text>
<text x="245.6" y="357.3" font-size="10.8" font-weight="bold" fill="#111" stroke="#111" stroke-width="0.6" textLength="8.7" lengthAdjust="spacingAndGlyphs">Z</text>
<text x="254.6" y="357.3" font-size="6.6" font-weight="bold" fill="#222">P</text>
<text x="179.6" y="358.2" font-size="14" font-weight="bold" fill="#1a1a1a">F<tspan font-size="12.7" dx="0.6">(x,y)</tspan></text>
<text x="122.4" y="406.3" font-size="11.6" font-weight="bold" fill="#222">stems</text>
<text x="165.6" y="441.3" font-size="10.8" font-weight="bold" fill="#111" stroke="#111" stroke-width="0.6" textLength="8.7" lengthAdjust="spacingAndGlyphs">Z</text>
<text x="175.6" y="433" font-size="10.2" font-weight="bold" fill="#2a2a2a">min</text>
<text x="175.6" y="444" font-size="9.4" font-weight="bold" fill="#3a3a3a">PC<tspan font-size="6.6" letter-spacing="0.25">n,e+1</tspan></text>
<path d="M41 455.6H242M44.4 447.5V463.5M110 447.5V463.5M175.5 447.5V463.5M241.6 447.5V463.5M41.5 449.5L48 462M107 449.5L113.5 462M172.5 449.5L179 462M238.6 449.5L245 462" stroke="#444" stroke-width="0.7" fill="none"/>
<text x="52.3" y="452.9" font-size="17" font-weight="bold" fill="#1a1a1a">0.40 m</text>
<text x="61.3" y="470.3" font-size="10.8" font-weight="bold" fill="#2a2a2a">PC<tspan font-size="6.8" letter-spacing="0.2">n,e-1</tspan></text>
<text x="129.6" y="470.3" font-size="10.8" font-weight="bold" fill="#2a2a2a">PC<tspan font-size="6.8" letter-spacing="0.2">n,e</tspan></text>
<text x="190.9" y="470.3" font-size="10.8" font-weight="bold" fill="#2a2a2a">PC<tspan font-size="6.8" letter-spacing="0.2">n,e+1</tspan></text>
<text x="140.5" y="501.9" font-family="'Liberation Serif',serif" font-size="13.8" fill="#111" text-anchor="middle">(<tspan font-weight="bold">c</tspan>)</text>
</g>
<g id="pd">
<path d="M297.3 318H523.5" stroke="#f7a8a8" stroke-width="0.9"/>
<path d="M394.4 304C386.5 306 382 313 381.8 322" stroke="#8a8a8a" stroke-width="0.9" fill="none"/><path d="M379.8 321L381.8 325.2L384 321Z" stroke="#8a8a8a" stroke-width="0.7" fill="#fff"/>
<path d="M299.8 278.9L519.2 358.1" stroke="#050505" stroke-width="3.5" stroke-linecap="round"/>
<text transform="translate(417.6 332.6) rotate(19.8)" font-size="9.7" font-style="italic" fill="#1a1a1a" stroke="#1a1a1a" stroke-width="0.3">LINEAR REG.</text>
<circle cx="343.6" cy="280.9" r="8.5" fill="#2fe82f" stroke="#0f3a0f" stroke-width="0.8"/>
<circle cx="424.7" cy="307.8" r="8.8" fill="#2fe82f" stroke="#0f3a0f" stroke-width="0.8"/>
<circle cx="500.9" cy="371.8" r="8.6" fill="#2fe82f" stroke="#0f3a0f" stroke-width="0.8"/>
<path d="M318.6 302.5L342.6 281.5M412.9 276.1L365.5 292M412.9 276.1L396 290.5M412.9 276.1L430.6 300M459.1 294.8L437 300M459.1 294.8L458.4 319.3M459.1 294.8L493.5 338.5M407.7 318.3L400.2 332.5" stroke="#333" stroke-width="0.75" fill="none"/>
<path d="M322.3 276.6V287.2M343.6 280.9V294.9M365.2 284.8V302.6M394 291.2V313.2M424.7 307.8V324.2M435.8 300.4V328.2M458.4 321.3V336.2M493.9 340.9V349.2M500.9 351.5V371.8" stroke="#1e9ad6" stroke-width="1.6" fill="none"/>
<circle cx="322.3" cy="276.6" r="3.1" fill="#050505"/>
<path d="M322.3 276.3v3.4" stroke="#1a7fb8" stroke-width="1.2"/>
<circle cx="343.6" cy="280.9" r="3.1" fill="#050505"/>
<path d="M343.6 280.59999999999997v3.4" stroke="#1a7fb8" stroke-width="1.2"/>
<circle cx="365.2" cy="284.8" r="3.1" fill="#050505"/>
<path d="M365.2 284.5v3.4" stroke="#1a7fb8" stroke-width="1.2"/>
<circle cx="394" cy="291.2" r="3.1" fill="#050505"/>
<path d="M394 290.9v3.4" stroke="#1a7fb8" stroke-width="1.2"/>
<circle cx="424.7" cy="307.8" r="3.1" fill="#050505"/>
<path d="M424.7 307.5v3.4" stroke="#1a7fb8" stroke-width="1.2"/>
<circle cx="435.8" cy="300.4" r="3.1" fill="#050505"/>
<path d="M435.8 300.09999999999997v3.4" stroke="#1a7fb8" stroke-width="1.2"/>
<circle cx="458.4" cy="321.3" r="3.1" fill="#050505"/>
<path d="M458.4 321.0v3.4" stroke="#1a7fb8" stroke-width="1.2"/>
<circle cx="493.9" cy="340.9" r="3.1" fill="#050505"/>
<path d="M493.9 340.59999999999997v3.4" stroke="#1a7fb8" stroke-width="1.2"/>
<circle cx="500.9" cy="371.8" r="3.1" fill="#050505"/>
<path d="M500.9 371.5v3.4" stroke="#1a7fb8" stroke-width="1.2"/>
<circle cx="407.7" cy="318" r="2.4" fill="#f5e410" stroke="#111" stroke-width="1.3"/>
<text x="286.4" y="308.7" font-size="10.6" font-weight="bold" fill="#111" stroke="#111" stroke-width="0.6" textLength="7.6" lengthAdjust="spacingAndGlyphs">Z</text>
<text x="298.9" y="298.9" font-size="9.8" font-weight="bold" fill="#2a2a2a">min</text>
<text x="298.9" y="313.1" font-size="9.4" font-weight="bold" fill="#3a3a3a">PC<tspan font-size="6.6" letter-spacing="0.25">n,e</tspan></text>
<text x="402.2" y="271.6" font-size="11.6" font-weight="bold" fill="#1a1a1a" textLength="9.6" lengthAdjust="spacingAndGlyphs">Δ</text>
<text x="413.3" y="271.6" font-size="11.6" font-weight="bold" fill="#111" stroke="#111" stroke-width="0.6" textLength="8.8" lengthAdjust="spacingAndGlyphs">Z</text>
<text x="422.7" y="262.8" font-size="8.1" font-weight="bold" fill="#333">plane</text>
<text x="422.7" y="272.6" font-size="7" font-weight="bold" fill="#333">s</text>
<text x="461.8" y="291.8" font-size="10.8" font-weight="bold" fill="#111" stroke="#111" stroke-width="0.6" textLength="7.3" lengthAdjust="spacingAndGlyphs">Z</text>
<text x="470.8" y="293.9" font-size="6.6" font-weight="bold" fill="#333">s</text>
<text x="329.6" y="347.6" font-size="16.6" font-weight="bold" fill="#222">(0,0,β<tspan font-size="8.3" font-weight="normal" stroke="#222" stroke-width="0.2">0,n,e</tspan>)</text>
<path d="M299.7 394.8L519.1 474.4" stroke="#c9c9c9" stroke-width="3" stroke-linecap="round"/>
<text transform="translate(417.5 448.2) rotate(19.8)" font-size="9.7" font-style="italic" fill="#cdcdcd" stroke="#cdcdcd" stroke-width="0.3">LINEAR REG.</text>
<path d="M338.8 396.8L322.3 421M338.8 396.8L343.5 418.3M338.8 396.8L363.7 414.2M412.6 400.9L367.8 422.5M412.6 400.9L394.9 414.2M412.6 400.9L434.8 408.7M497.8 381L492.8 386.6M407.9 434.1L396.8 455.6" stroke="#333" stroke-width="0.75" fill="none"/>
<path d="M391.4 422.5C385 425 382 430 381.6 437.5" stroke="#8a8a8a" stroke-width="0.9" fill="none"/><path d="M379.6 436.4L381.6 440.6L383.8 436.4Z" stroke="#8a8a8a" stroke-width="0.7" fill="#fff"/>
<path d="M297.5 433.9H524.6" stroke="#f41414" stroke-width="1.7"/>
<path d="M322.3 423.4V433.9M343.8 420.6V433.9M365.3 415.9V433.9M394 412V433.9M424.4 418.3V433.9M435.7 405.9V433.9M458.3 419.1V433.9M493.7 425.2V433.9M501.1 452.8V433.9" stroke="#1e9ad6" stroke-width="1.6" fill="none"/>
<circle cx="322.3" cy="423.4" r="3.3" fill="#f20d0d"/>
<path d="M322.3 423.79999999999995v3.2" stroke="#4a1020" stroke-width="1.5"/>
<circle cx="343.8" cy="420.6" r="3.3" fill="#f20d0d"/>
<path d="M343.8 421.0v3.2" stroke="#4a1020" stroke-width="1.5"/>
<circle cx="365.3" cy="415.9" r="3.3" fill="#f20d0d"/>
<path d="M365.3 416.29999999999995v3.2" stroke="#4a1020" stroke-width="1.5"/>
<circle cx="394" cy="412" r="3.3" fill="#f20d0d"/>
<path d="M394 412.4v3.2" stroke="#4a1020" stroke-width="1.5"/>
<circle cx="424.4" cy="418.3" r="3.3" fill="#f20d0d"/>
<path d="M424.4 418.7v3.2" stroke="#4a1020" stroke-width="1.5"/>
<circle cx="435.7" cy="405.9" r="3.3" fill="#f20d0d"/>
<path d="M435.7 406.29999999999995v3.2" stroke="#4a1020" stroke-width="1.5"/>
<circle cx="458.3" cy="419.1" r="3.3" fill="#f20d0d"/>
<path d="M458.3 419.5v3.2" stroke="#4a1020" stroke-width="1.5"/>
<circle cx="493.7" cy="425.2" r="3.3" fill="#f20d0d"/>
<path d="M493.7 425.59999999999997v3.2" stroke="#4a1020" stroke-width="1.5"/>
<circle cx="501.1" cy="452.8" r="3.3" fill="#f20d0d"/>
<path d="M501.1 452.40000000000003v-3.2" stroke="#4a1020" stroke-width="1.5"/>
<circle cx="407.9" cy="433.9" r="2.4" fill="#f5e410" stroke="#111" stroke-width="1.3"/>
<text x="331.3" y="392.2" font-size="10.8" font-weight="bold" fill="#111" stroke="#111" stroke-width="0.6" textLength="8.4" lengthAdjust="spacingAndGlyphs">Z</text>
<text x="340.6" y="384" font-size="7.9" font-weight="bold" fill="#333">trans</text>
<text x="340.6" y="394.2" font-size="8" font-weight="bold" fill="#333">s</text>
<text x="400.6" y="397.2" font-size="11.6" font-weight="bold" fill="#1a1a1a" textLength="9.6" lengthAdjust="spacingAndGlyphs">Δ</text>
<text x="411.8" y="397.2" font-size="11.6" font-weight="bold" fill="#111" stroke="#111" stroke-width="0.6" textLength="9" lengthAdjust="spacingAndGlyphs">Z</text>
<text x="422.6" y="387.3" font-size="8.1" font-weight="bold" fill="#333">plane</text>
<text x="422.6" y="397.8" font-size="7" font-weight="bold" fill="#333">s</text>
<text x="468" y="397.6" font-size="10.8" font-weight="bold" fill="#111" stroke="#111" stroke-width="0.6" textLength="7.8" lengthAdjust="spacingAndGlyphs">Z</text>
<text x="477.6" y="389.9" font-size="7.8" font-weight="bold" fill="#333">min</text>
<text x="477.6" y="399.8" font-size="9.6" font-weight="bold" fill="#2a2a2a">ST<tspan font-size="7" letter-spacing="0.25">n,e</tspan></text>
<text x="329.6" y="470.8" font-size="16.6" font-weight="bold" fill="#222">(0,0,β<tspan font-size="8.3" font-weight="normal" stroke="#222" stroke-width="0.2">0,n,e</tspan>)</text>
<text x="406.8" y="501.9" font-family="'Liberation Serif',serif" font-size="13.8" fill="#111" text-anchor="middle">(<tspan font-weight="bold">d</tspan>)</text>
</g>
</svg></body></html>
